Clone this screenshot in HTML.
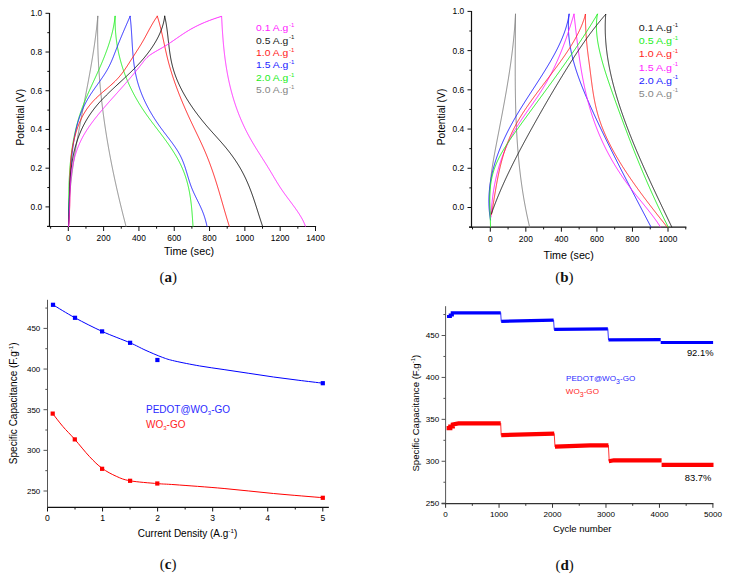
<!DOCTYPE html>
<html><head><meta charset="utf-8"><title>Figure</title>
<style>
html,body{margin:0;padding:0;background:#fff;}
body{width:729px;height:578px;overflow:hidden;font-family:"Liberation Sans", sans-serif;}
svg{display:block;}
</style></head>
<body>
<svg width="729" height="578" viewBox="0 0 729 578">
<rect width="729" height="578" fill="#fff"/>
<line x1="49.5" y1="13" x2="49.5" y2="227.1" stroke="#111" stroke-width="1.2"/>
<line x1="47" y1="226.5" x2="316.1" y2="226.5" stroke="#111" stroke-width="1.2"/>
<line x1="45.5" y1="13.3" x2="49.5" y2="13.3" stroke="#111" stroke-width="1.0"/>
<text x="42.2" y="16.2" font-size="8.4" text-anchor="end" fill="#000" font-family='"Liberation Sans", sans-serif' >1.0</text>
<line x1="47.3" y1="32.66" x2="49.5" y2="32.66" stroke="#111" stroke-width="1.0"/>
<line x1="45.5" y1="52.02" x2="49.5" y2="52.02" stroke="#111" stroke-width="1.0"/>
<text x="42.2" y="54.92" font-size="8.4" text-anchor="end" fill="#000" font-family='"Liberation Sans", sans-serif' >0.8</text>
<line x1="47.3" y1="71.38" x2="49.5" y2="71.38" stroke="#111" stroke-width="1.0"/>
<line x1="45.5" y1="90.74" x2="49.5" y2="90.74" stroke="#111" stroke-width="1.0"/>
<text x="42.2" y="93.64" font-size="8.4" text-anchor="end" fill="#000" font-family='"Liberation Sans", sans-serif' >0.6</text>
<line x1="47.3" y1="110.1" x2="49.5" y2="110.1" stroke="#111" stroke-width="1.0"/>
<line x1="45.5" y1="129.46" x2="49.5" y2="129.46" stroke="#111" stroke-width="1.0"/>
<text x="42.2" y="132.36" font-size="8.4" text-anchor="end" fill="#000" font-family='"Liberation Sans", sans-serif' >0.4</text>
<line x1="47.3" y1="148.82" x2="49.5" y2="148.82" stroke="#111" stroke-width="1.0"/>
<line x1="45.5" y1="168.18" x2="49.5" y2="168.18" stroke="#111" stroke-width="1.0"/>
<text x="42.2" y="171.08" font-size="8.4" text-anchor="end" fill="#000" font-family='"Liberation Sans", sans-serif' >0.2</text>
<line x1="47.3" y1="187.54" x2="49.5" y2="187.54" stroke="#111" stroke-width="1.0"/>
<line x1="45.5" y1="206.9" x2="49.5" y2="206.9" stroke="#111" stroke-width="1.0"/>
<text x="42.2" y="209.8" font-size="8.4" text-anchor="end" fill="#000" font-family='"Liberation Sans", sans-serif' >0.0</text>
<line x1="47.3" y1="226.26" x2="49.5" y2="226.26" stroke="#111" stroke-width="1.0"/>
<line x1="50.64" y1="226.5" x2="50.64" y2="228.7" stroke="#111" stroke-width="1.0"/>
<line x1="68.3" y1="226.5" x2="68.3" y2="231" stroke="#111" stroke-width="1.0"/>
<text x="68.3" y="240.6" font-size="8.4" text-anchor="middle" fill="#000" font-family='"Liberation Sans", sans-serif' >0</text>
<line x1="85.96" y1="226.5" x2="85.96" y2="228.7" stroke="#111" stroke-width="1.0"/>
<line x1="103.61" y1="226.5" x2="103.61" y2="231" stroke="#111" stroke-width="1.0"/>
<text x="103.61" y="240.6" font-size="8.4" text-anchor="middle" fill="#000" font-family='"Liberation Sans", sans-serif' >200</text>
<line x1="121.27" y1="226.5" x2="121.27" y2="228.7" stroke="#111" stroke-width="1.0"/>
<line x1="138.93" y1="226.5" x2="138.93" y2="231" stroke="#111" stroke-width="1.0"/>
<text x="138.93" y="240.6" font-size="8.4" text-anchor="middle" fill="#000" font-family='"Liberation Sans", sans-serif' >400</text>
<line x1="156.58" y1="226.5" x2="156.58" y2="228.7" stroke="#111" stroke-width="1.0"/>
<line x1="174.24" y1="226.5" x2="174.24" y2="231" stroke="#111" stroke-width="1.0"/>
<text x="174.24" y="240.6" font-size="8.4" text-anchor="middle" fill="#000" font-family='"Liberation Sans", sans-serif' >600</text>
<line x1="191.9" y1="226.5" x2="191.9" y2="228.7" stroke="#111" stroke-width="1.0"/>
<line x1="209.56" y1="226.5" x2="209.56" y2="231" stroke="#111" stroke-width="1.0"/>
<text x="209.56" y="240.6" font-size="8.4" text-anchor="middle" fill="#000" font-family='"Liberation Sans", sans-serif' >800</text>
<line x1="227.21" y1="226.5" x2="227.21" y2="228.7" stroke="#111" stroke-width="1.0"/>
<line x1="244.87" y1="226.5" x2="244.87" y2="231" stroke="#111" stroke-width="1.0"/>
<text x="244.87" y="240.6" font-size="8.4" text-anchor="middle" fill="#000" font-family='"Liberation Sans", sans-serif' >1000</text>
<line x1="262.53" y1="226.5" x2="262.53" y2="228.7" stroke="#111" stroke-width="1.0"/>
<line x1="280.18" y1="226.5" x2="280.18" y2="231" stroke="#111" stroke-width="1.0"/>
<text x="280.18" y="240.6" font-size="8.4" text-anchor="middle" fill="#000" font-family='"Liberation Sans", sans-serif' >1200</text>
<line x1="297.84" y1="226.5" x2="297.84" y2="228.7" stroke="#111" stroke-width="1.0"/>
<line x1="315.5" y1="226.5" x2="315.5" y2="231" stroke="#111" stroke-width="1.0"/>
<text x="315.5" y="240.6" font-size="8.4" text-anchor="middle" fill="#000" font-family='"Liberation Sans", sans-serif' >1400</text>
<text x="189" y="255.4" font-size="10.2" text-anchor="middle" fill="#000" font-family='"Liberation Sans", sans-serif'  textLength="50.2" lengthAdjust="spacingAndGlyphs">Time (sec)</text>
<text transform="translate(23.6,117.2) rotate(-90)" font-size="10.3" text-anchor="middle" fill="#000" font-family='"Liberation Sans", sans-serif'>Potential (V)</text>
<polyline points="97.8,16.3 97.71,17.3 97.62,18.3 97.52,19.3 97.43,20.3 97.33,21.3 97.23,22.3 97.13,23.3 97.02,24.3 96.92,25.3 96.81,26.3 96.7,27.3 96.58,28.3 96.47,29.3 96.35,30.3 96.23,31.3 96.11,32.3 95.99,33.3 95.86,34.3 95.74,35.3 95.61,36.3 95.48,37.3 95.34,38.3 95.21,39.3 95.07,40.3 94.93,41.3 94.79,42.3 94.65,43.3 94.51,44.3 94.36,45.3 94.22,46.3 94.07,47.3 93.92,48.3 93.77,49.3 93.62,50.3 93.46,51.3 93.31,52.3 93.15,53.3 92.99,54.3 92.83,55.3 92.67,56.3 92.51,57.3 92.35,58.3 92.18,59.3 92.01,60.3 91.85,61.3 91.68,62.3 91.51,63.3 91.34,64.3 91.17,65.3 90.99,66.3 90.82,67.3 90.64,68.3 90.47,69.3 90.29,70.3 90.11,71.3 89.93,72.3 89.75,73.3 89.57,74.3 89.39,75.3 89.21,76.3 89.03,77.3 88.84,78.3 88.66,79.3 88.47,80.3 88.29,81.3 88.1,82.3 87.92,83.3 87.73,84.3 87.54,85.3 87.35,86.3 87.16,87.3 86.97,88.3 86.78,89.3 86.59,90.3 86.4,91.3 86.21,92.3 86.02,93.3 85.83,94.3 85.63,95.3 85.44,96.3 85.25,97.3 85.06,98.3 84.86,99.3 84.67,100.3 84.48,101.3 84.28,102.3 84.09,103.3 83.9,104.3 83.7,105.3 83.51,106.3 83.32,107.3 83.12,108.3 82.93,109.3 82.74,110.3 82.55,111.3 82.35,112.3 82.16,113.3 81.97,114.3 81.78,115.3 81.58,116.3 81.39,117.3 81.2,118.3 81.01,119.3 80.82,120.3 80.63,121.3 80.44,122.3 80.25,123.3 80.06,124.3 79.88,125.3 79.69,126.3 79.5,127.3 79.32,128.3 79.13,129.3 78.95,130.3 78.76,131.3 78.58,132.3 78.4,133.3 78.21,134.3 78.03,135.3 77.85,136.3 77.67,137.3 77.5,138.3 77.32,139.3 77.14,140.3 76.97,141.3 76.79,142.3 76.62,143.3 76.45,144.3 76.28,145.3 76.1,146.3 75.94,147.3 75.77,148.3 75.6,149.3 75.44,150.3 75.27,151.3 75.11,152.3 74.95,153.3 74.79,154.3 74.63,155.3 74.47,156.3 74.31,157.3 74.16,158.3 74.01,159.3 73.85,160.3 73.7,161.3 73.55,162.3 73.41,163.3 73.26,164.3 73.12,165.3 72.98,166.3 72.83,167.3 72.7,168.3 72.56,169.3 72.42,170.3 72.29,171.3 72.16,172.3 72.03,173.3 71.9,174.3 71.77,175.3 71.65,176.3 71.53,177.3 71.41,178.3 71.29,179.3 71.17,180.3 71.06,181.3 70.95,182.3 70.84,183.3 70.73,184.3 70.62,185.3 70.52,186.3 70.42,187.3 70.32,188.3 70.22,189.3 70.13,190.3 70.04,191.3 69.95,192.3 69.86,193.3 69.77,194.3 69.69,195.3 69.61,196.3 69.53,197.3 69.46,198.3 69.39,199.3 69.32,200.3 69.25,201.3 69.18,202.3 69.12,203.3 69.06,204.3 69.01,205.3 68.95,206.3 68.9,207.3 68.85,208.3 68.81,209.3 68.77,210.3 68.73,211.3 68.69,212.3 68.66,213.3 68.62,214.3 68.6,215.3 68.57,216.3 68.55,217.3 68.53,218.3 68.52,219.3 68.5,220.3 68.49,221.3 68.49,222.3 68.48,223.3 68.48,224.3 68.49,225.3 68.5,226.3 68.5,226.5" fill="none" stroke="#858585" stroke-width="0.95"  stroke-linecap="round" stroke-linejoin="round"/>
<polyline points="97.8,16.3 97.78,17.3 97.76,18.3 97.74,19.3 97.72,20.3 97.7,21.3 97.68,22.3 97.67,23.3 97.65,24.3 97.64,25.3 97.63,26.3 97.62,27.3 97.62,28.3 97.61,29.3 97.61,30.3 97.61,31.3 97.61,32.3 97.62,33.3 97.62,34.3 97.63,35.3 97.64,36.3 97.65,37.3 97.66,38.3 97.67,39.3 97.69,40.3 97.7,41.3 97.72,42.3 97.74,43.3 97.77,44.3 97.79,45.3 97.82,46.3 97.84,47.3 97.87,48.3 97.9,49.3 97.94,50.3 97.97,51.3 98.01,52.3 98.04,53.3 98.08,54.3 98.12,55.3 98.17,56.3 98.21,57.3 98.26,58.3 98.3,59.3 98.35,60.3 98.4,61.3 98.46,62.3 98.51,63.3 98.57,64.3 98.62,65.3 98.68,66.3 98.74,67.3 98.81,68.3 98.87,69.3 98.94,70.3 99,71.3 99.07,72.3 99.14,73.3 99.21,74.3 99.29,75.3 99.36,76.3 99.44,77.3 99.52,78.3 99.6,79.3 99.68,80.3 99.76,81.3 99.85,82.3 99.93,83.3 100.02,84.3 100.11,85.3 100.2,86.3 100.29,87.3 100.39,88.3 100.48,89.3 100.58,90.3 100.68,91.3 100.77,92.3 100.88,93.3 100.98,94.3 101.08,95.3 101.19,96.3 101.3,97.3 101.4,98.3 101.52,99.3 101.63,100.3 101.74,101.3 101.85,102.3 101.97,103.3 102.09,104.3 102.21,105.3 102.33,106.3 102.45,107.3 102.57,108.3 102.7,109.3 102.82,110.3 102.95,111.3 103.08,112.3 103.21,113.3 103.34,114.3 103.48,115.3 103.61,116.3 103.75,117.3 103.88,118.3 104.02,119.3 104.16,120.3 104.31,121.3 104.45,122.3 104.59,123.3 104.74,124.3 104.89,125.3 105.03,126.3 105.18,127.3 105.34,128.3 105.49,129.3 105.64,130.3 105.8,131.3 105.95,132.3 106.11,133.3 106.27,134.3 106.43,135.3 106.59,136.3 106.76,137.3 106.92,138.3 107.09,139.3 107.25,140.3 107.42,141.3 107.59,142.3 107.76,143.3 107.94,144.3 108.11,145.3 108.28,146.3 108.46,147.3 108.64,148.3 108.82,149.3 109,150.3 109.18,151.3 109.36,152.3 109.54,153.3 109.73,154.3 109.91,155.3 110.1,156.3 110.29,157.3 110.48,158.3 110.67,159.3 110.86,160.3 111.06,161.3 111.25,162.3 111.45,163.3 111.64,164.3 111.84,165.3 112.04,166.3 112.24,167.3 112.44,168.3 112.65,169.3 112.85,170.3 113.06,171.3 113.26,172.3 113.47,173.3 113.68,174.3 113.89,175.3 114.1,176.3 114.31,177.3 114.52,178.3 114.74,179.3 114.95,180.3 115.17,181.3 115.39,182.3 115.61,183.3 115.83,184.3 116.05,185.3 116.27,186.3 116.49,187.3 116.72,188.3 116.94,189.3 117.17,190.3 117.4,191.3 117.63,192.3 117.86,193.3 118.09,194.3 118.32,195.3 118.55,196.3 118.79,197.3 119.02,198.3 119.26,199.3 119.49,200.3 119.73,201.3 119.97,202.3 120.21,203.3 120.45,204.3 120.7,205.3 120.94,206.3 121.18,207.3 121.43,208.3 121.67,209.3 121.92,210.3 122.17,211.3 122.42,212.3 122.67,213.3 122.92,214.3 123.17,215.3 123.43,216.3 123.68,217.3 123.94,218.3 124.19,219.3 124.45,220.3 124.71,221.3 124.97,222.3 125.22,223.3 125.49,224.3 125.75,225.3 126,226.3" fill="none" stroke="#858585" stroke-width="0.95"  stroke-linecap="round" stroke-linejoin="round"/>
<polyline points="115.1,16.3 114.98,17.3 114.87,18.3 114.75,19.3 114.61,20.3 114.47,21.3 114.32,22.3 114.15,23.3 113.98,24.3 113.8,25.3 113.61,26.3 113.42,27.3 113.21,28.3 113,29.3 112.77,30.3 112.54,31.3 112.3,32.3 112.06,33.3 111.8,34.3 111.54,35.3 111.27,36.3 110.99,37.3 110.71,38.3 110.41,39.3 110.12,40.3 109.81,41.3 109.5,42.3 109.18,43.3 108.85,44.3 108.52,45.3 108.19,46.3 107.84,47.3 107.49,48.3 107.14,49.3 106.78,50.3 106.41,51.3 106.04,52.3 105.66,53.3 105.28,54.3 104.9,55.3 104.5,56.3 104.11,57.3 103.71,58.3 103.3,59.3 102.9,60.3 102.48,61.3 102.07,62.3 101.65,63.3 101.22,64.3 100.79,65.3 100.36,66.3 99.93,67.3 99.49,68.3 99.05,69.3 98.61,70.3 98.16,71.3 97.72,72.3 97.27,73.3 96.81,74.3 96.36,75.3 95.9,76.3 95.45,77.3 94.99,78.3 94.53,79.3 94.07,80.3 93.61,81.3 93.15,82.3 92.69,83.3 92.23,84.3 91.78,85.3 91.32,86.3 90.86,87.3 90.41,88.3 89.96,89.3 89.51,90.3 89.06,91.3 88.61,92.3 88.17,93.3 87.73,94.3 87.3,95.3 86.86,96.3 86.44,97.3 86.01,98.3 85.59,99.3 85.18,100.3 84.77,101.3 84.36,102.3 83.96,103.3 83.57,104.3 83.18,105.3 82.8,106.3 82.42,107.3 82.05,108.3 81.69,109.3 81.34,110.3 80.99,111.3 80.64,112.3 80.31,113.3 79.98,114.3 79.65,115.3 79.34,116.3 79.03,117.3 78.72,118.3 78.42,119.3 78.13,120.3 77.84,121.3 77.56,122.3 77.28,123.3 77.02,124.3 76.75,125.3 76.49,126.3 76.24,127.3 75.99,128.3 75.75,129.3 75.51,130.3 75.28,131.3 75.06,132.3 74.84,133.3 74.62,134.3 74.41,135.3 74.2,136.3 74,137.3 73.81,138.3 73.62,139.3 73.43,140.3 73.25,141.3 73.07,142.3 72.9,143.3 72.73,144.3 72.57,145.3 72.41,146.3 72.26,147.3 72.11,148.3 71.96,149.3 71.82,150.3 71.68,151.3 71.55,152.3 71.42,153.3 71.29,154.3 71.17,155.3 71.05,156.3 70.94,157.3 70.83,158.3 70.72,159.3 70.61,160.3 70.51,161.3 70.42,162.3 70.32,163.3 70.23,164.3 70.15,165.3 70.06,166.3 69.98,167.3 69.9,168.3 69.83,169.3 69.76,170.3 69.69,171.3 69.62,172.3 69.56,173.3 69.5,174.3 69.44,175.3 69.38,176.3 69.33,177.3 69.28,178.3 69.23,179.3 69.19,180.3 69.14,181.3 69.1,182.3 69.06,183.3 69.02,184.3 68.99,185.3 68.96,186.3 68.92,187.3 68.89,188.3 68.87,189.3 68.84,190.3 68.82,191.3 68.79,192.3 68.77,193.3 68.75,194.3 68.73,195.3 68.71,196.3 68.7,197.3 68.68,198.3 68.67,199.3 68.66,200.3 68.65,201.3 68.63,202.3 68.62,203.3 68.62,204.3 68.61,205.3 68.6,206.3 68.59,207.3 68.59,208.3 68.58,209.3 68.58,210.3 68.57,211.3 68.57,212.3 68.56,213.3 68.56,214.3 68.55,215.3 68.55,216.3 68.55,217.3 68.54,218.3 68.54,219.3 68.53,220.3 68.53,221.3 68.53,222.3 68.52,223.3 68.52,224.3 68.51,225.3 68.5,226.3 68.5,226.5" fill="none" stroke="#22ee22" stroke-width="0.95"  stroke-linecap="round" stroke-linejoin="round"/>
<polyline points="115.1,16.3 115.1,17.3 115.09,18.3 115.08,19.3 115.09,20.3 115.1,21.3 115.11,22.3 115.13,23.3 115.16,24.3 115.19,25.3 115.23,26.3 115.28,27.3 115.33,28.3 115.38,29.3 115.45,30.3 115.52,31.3 115.59,32.3 115.68,33.3 115.77,34.3 115.86,35.3 115.96,36.3 116.07,37.3 116.19,38.3 116.31,39.3 116.43,40.3 116.57,41.3 116.71,42.3 116.86,43.3 117.01,44.3 117.17,45.3 117.34,46.3 117.51,47.3 117.69,48.3 117.88,49.3 118.08,50.3 118.28,51.3 118.49,52.3 118.7,53.3 118.92,54.3 119.15,55.3 119.39,56.3 119.63,57.3 119.88,58.3 120.14,59.3 120.41,60.3 120.68,61.3 120.96,62.3 121.24,63.3 121.54,64.3 121.84,65.3 122.15,66.3 122.46,67.3 122.79,68.3 123.12,69.3 123.46,70.3 123.8,71.3 124.15,72.3 124.52,73.3 124.88,74.3 125.26,75.3 125.64,76.3 126.04,77.3 126.44,78.3 126.84,79.3 127.26,80.3 127.68,81.3 128.11,82.3 128.55,83.3 129,84.3 129.45,85.3 129.91,86.3 130.38,87.3 130.86,88.3 131.35,89.3 131.84,90.3 132.35,91.3 132.86,92.3 133.38,93.3 133.9,94.3 134.44,95.3 134.98,96.3 135.54,97.3 136.1,98.3 136.67,99.3 137.24,100.3 137.83,101.3 138.43,102.3 139.03,103.3 139.64,104.3 140.26,105.3 140.89,106.3 141.53,107.3 142.17,108.3 142.83,109.3 143.49,110.3 144.17,111.3 144.85,112.3 145.54,113.3 146.24,114.3 146.94,115.3 147.66,116.3 148.38,117.3 149.11,118.3 149.85,119.3 150.59,120.3 151.33,121.3 152.08,122.3 152.83,123.3 153.59,124.3 154.35,125.3 155.11,126.3 155.87,127.3 156.63,128.3 157.4,129.3 158.16,130.3 158.92,131.3 159.68,132.3 160.44,133.3 161.2,134.3 161.95,135.3 162.7,136.3 163.45,137.3 164.19,138.3 164.92,139.3 165.65,140.3 166.37,141.3 167.09,142.3 167.8,143.3 168.5,144.3 169.19,145.3 169.88,146.3 170.56,147.3 171.23,148.3 171.89,149.3 172.54,150.3 173.18,151.3 173.81,152.3 174.43,153.3 175.05,154.3 175.65,155.3 176.24,156.3 176.82,157.3 177.38,158.3 177.94,159.3 178.48,160.3 179.01,161.3 179.53,162.3 180.03,163.3 180.52,164.3 181,165.3 181.46,166.3 181.91,167.3 182.35,168.3 182.77,169.3 183.18,170.3 183.58,171.3 183.97,172.3 184.34,173.3 184.71,174.3 185.06,175.3 185.4,176.3 185.73,177.3 186.04,178.3 186.35,179.3 186.65,180.3 186.94,181.3 187.21,182.3 187.48,183.3 187.74,184.3 187.99,185.3 188.23,186.3 188.46,187.3 188.68,188.3 188.89,189.3 189.1,190.3 189.3,191.3 189.49,192.3 189.67,193.3 189.84,194.3 190.01,195.3 190.17,196.3 190.33,197.3 190.48,198.3 190.62,199.3 190.76,200.3 190.89,201.3 191.01,202.3 191.13,203.3 191.25,204.3 191.36,205.3 191.47,206.3 191.57,207.3 191.67,208.3 191.76,209.3 191.85,210.3 191.94,211.3 192.02,212.3 192.1,213.3 192.18,214.3 192.26,215.3 192.33,216.3 192.4,217.3 192.47,218.3 192.54,219.3 192.61,220.3 192.67,221.3 192.74,222.3 192.8,223.3 192.87,224.3 192.93,225.3 193,226.3" fill="none" stroke="#22ee22" stroke-width="0.95"  stroke-linecap="round" stroke-linejoin="round"/>
<polyline points="130.1,16.3 129.67,17.3 129.23,18.3 128.79,19.3 128.35,20.3 127.91,21.3 127.48,22.3 127.04,23.3 126.6,24.3 126.17,25.3 125.74,26.3 125.3,27.3 124.87,28.3 124.44,29.3 124.01,30.3 123.59,31.3 123.16,32.3 122.73,33.3 122.31,34.3 121.89,35.3 121.47,36.3 121.06,37.3 120.64,38.3 120.23,39.3 119.82,40.3 119.41,41.3 119,42.3 118.6,43.3 118.2,44.3 117.8,45.3 117.4,46.3 117.01,47.3 116.62,48.3 116.24,49.3 115.85,50.3 115.47,51.3 115.08,52.3 114.7,53.3 114.31,54.3 113.92,55.3 113.53,56.3 113.13,57.3 112.72,58.3 112.31,59.3 111.89,60.3 111.46,61.3 111.01,62.3 110.56,63.3 110.09,64.3 109.61,65.3 109.12,66.3 108.6,67.3 108.07,68.3 107.53,69.3 106.96,70.3 106.37,71.3 105.77,72.3 105.15,73.3 104.51,74.3 103.86,75.3 103.2,76.3 102.53,77.3 101.84,78.3 101.15,79.3 100.45,80.3 99.75,81.3 99.04,82.3 98.33,83.3 97.61,84.3 96.9,85.3 96.18,86.3 95.47,87.3 94.76,88.3 94.06,89.3 93.37,90.3 92.68,91.3 92,92.3 91.33,93.3 90.67,94.3 90.03,95.3 89.4,96.3 88.79,97.3 88.19,98.3 87.61,99.3 87.04,100.3 86.49,101.3 85.95,102.3 85.43,103.3 84.92,104.3 84.43,105.3 83.95,106.3 83.48,107.3 83.03,108.3 82.58,109.3 82.16,110.3 81.74,111.3 81.34,112.3 80.94,113.3 80.56,114.3 80.2,115.3 79.84,116.3 79.49,117.3 79.16,118.3 78.83,119.3 78.51,120.3 78.21,121.3 77.91,122.3 77.63,123.3 77.35,124.3 77.08,125.3 76.82,126.3 76.57,127.3 76.33,128.3 76.09,129.3 75.86,130.3 75.64,131.3 75.43,132.3 75.22,133.3 75.02,134.3 74.83,135.3 74.64,136.3 74.46,137.3 74.29,138.3 74.12,139.3 73.95,140.3 73.79,141.3 73.63,142.3 73.48,143.3 73.34,144.3 73.19,145.3 73.05,146.3 72.92,147.3 72.78,148.3 72.65,149.3 72.53,150.3 72.41,151.3 72.29,152.3 72.17,153.3 72.06,154.3 71.95,155.3 71.84,156.3 71.74,157.3 71.64,158.3 71.54,159.3 71.45,160.3 71.35,161.3 71.26,162.3 71.18,163.3 71.09,164.3 71.01,165.3 70.93,166.3 70.86,167.3 70.78,168.3 70.71,169.3 70.64,170.3 70.57,171.3 70.51,172.3 70.44,173.3 70.38,174.3 70.32,175.3 70.27,176.3 70.21,177.3 70.16,178.3 70.1,179.3 70.05,180.3 70,181.3 69.96,182.3 69.91,183.3 69.87,184.3 69.82,185.3 69.78,186.3 69.74,187.3 69.7,188.3 69.66,189.3 69.63,190.3 69.59,191.3 69.55,192.3 69.52,193.3 69.49,194.3 69.45,195.3 69.42,196.3 69.39,197.3 69.36,198.3 69.33,199.3 69.3,200.3 69.27,201.3 69.24,202.3 69.21,203.3 69.19,204.3 69.16,205.3 69.13,206.3 69.1,207.3 69.07,208.3 69.04,209.3 69.02,210.3 68.99,211.3 68.96,212.3 68.93,213.3 68.9,214.3 68.87,215.3 68.84,216.3 68.81,217.3 68.78,218.3 68.75,219.3 68.72,220.3 68.68,221.3 68.65,222.3 68.62,223.3 68.58,224.3 68.54,225.3 68.51,226.3 68.5,226.5" fill="none" stroke="#2222ff" stroke-width="0.95"  stroke-linecap="round" stroke-linejoin="round"/>
<polyline points="130.1,16.3 130.22,17.3 130.34,18.3 130.45,19.3 130.55,20.3 130.65,21.3 130.75,22.3 130.84,23.3 130.93,24.3 131.02,25.3 131.1,26.3 131.17,27.3 131.25,28.3 131.32,29.3 131.39,30.3 131.46,31.3 131.52,32.3 131.59,33.3 131.65,34.3 131.71,35.3 131.77,36.3 131.83,37.3 131.89,38.3 131.95,39.3 132,40.3 132.06,41.3 132.12,42.3 132.18,43.3 132.24,44.3 132.3,45.3 132.37,46.3 132.43,47.3 132.5,48.3 132.57,49.3 132.64,50.3 132.71,51.3 132.79,52.3 132.87,53.3 132.95,54.3 133.04,55.3 133.13,56.3 133.22,57.3 133.32,58.3 133.43,59.3 133.54,60.3 133.65,61.3 133.77,62.3 133.9,63.3 134.03,64.3 134.16,65.3 134.31,66.3 134.46,67.3 134.61,68.3 134.78,69.3 134.95,70.3 135.13,71.3 135.32,72.3 135.51,73.3 135.71,74.3 135.93,75.3 136.15,76.3 136.38,77.3 136.62,78.3 136.86,79.3 137.12,80.3 137.39,81.3 137.67,82.3 137.96,83.3 138.26,84.3 138.57,85.3 138.88,86.3 139.21,87.3 139.55,88.3 139.9,89.3 140.26,90.3 140.62,91.3 141,92.3 141.39,93.3 141.79,94.3 142.2,95.3 142.61,96.3 143.04,97.3 143.48,98.3 143.92,99.3 144.38,100.3 144.85,101.3 145.32,102.3 145.81,103.3 146.31,104.3 146.81,105.3 147.33,106.3 147.85,107.3 148.39,108.3 148.93,109.3 149.49,110.3 150.05,111.3 150.63,112.3 151.21,113.3 151.8,114.3 152.41,115.3 153.02,116.3 153.64,117.3 154.28,118.3 154.92,119.3 155.57,120.3 156.23,121.3 156.9,122.3 157.58,123.3 158.27,124.3 158.97,125.3 159.68,126.3 160.4,127.3 161.13,128.3 161.87,129.3 162.61,130.3 163.37,131.3 164.12,132.3 164.89,133.3 165.65,134.3 166.42,135.3 167.18,136.3 167.95,137.3 168.71,138.3 169.47,139.3 170.23,140.3 170.98,141.3 171.72,142.3 172.46,143.3 173.18,144.3 173.89,145.3 174.59,146.3 175.28,147.3 175.95,148.3 176.61,149.3 177.24,150.3 177.86,151.3 178.46,152.3 179.04,153.3 179.6,154.3 180.13,155.3 180.64,156.3 181.12,157.3 181.59,158.3 182.04,159.3 182.47,160.3 182.88,161.3 183.28,162.3 183.66,163.3 184.03,164.3 184.39,165.3 184.74,166.3 185.07,167.3 185.4,168.3 185.72,169.3 186.03,170.3 186.34,171.3 186.64,172.3 186.94,173.3 187.24,174.3 187.54,175.3 187.84,176.3 188.14,177.3 188.44,178.3 188.74,179.3 189.05,180.3 189.37,181.3 189.7,182.3 190.03,183.3 190.37,184.3 190.72,185.3 191.09,186.3 191.47,187.3 191.86,188.3 192.27,189.3 192.69,190.3 193.13,191.3 193.57,192.3 194.03,193.3 194.5,194.3 194.97,195.3 195.45,196.3 195.94,197.3 196.42,198.3 196.92,199.3 197.41,200.3 197.9,201.3 198.39,202.3 198.88,203.3 199.36,204.3 199.83,205.3 200.3,206.3 200.76,207.3 201.21,208.3 201.65,209.3 202.08,210.3 202.49,211.3 202.88,212.3 203.27,213.3 203.63,214.3 203.99,215.3 204.32,216.3 204.65,217.3 204.96,218.3 205.26,219.3 205.54,220.3 205.81,221.3 206.07,222.3 206.32,223.3 206.56,224.3 206.78,225.3 207,226.3" fill="none" stroke="#2222ff" stroke-width="0.95"  stroke-linecap="round" stroke-linejoin="round"/>
<polyline points="157.3,16.2 156.61,17.2 155.93,18.2 155.28,19.2 154.64,20.2 154.01,21.2 153.4,22.2 152.81,23.2 152.22,24.2 151.65,25.2 151.08,26.2 150.52,27.2 149.97,28.2 149.42,29.2 148.88,30.2 148.34,31.2 147.81,32.2 147.27,33.2 146.74,34.2 146.2,35.2 145.66,36.2 145.11,37.2 144.57,38.2 144.01,39.2 143.45,40.2 142.88,41.2 142.3,42.2 141.71,43.2 141.11,44.2 140.5,45.2 139.89,46.2 139.27,47.2 138.64,48.2 138.01,49.2 137.37,50.2 136.73,51.2 136.09,52.2 135.45,53.2 134.8,54.2 134.15,55.2 133.5,56.2 132.85,57.2 132.21,58.2 131.56,59.2 130.92,60.2 130.27,61.2 129.64,62.2 129,63.2 128.36,64.2 127.71,65.2 127.06,66.2 126.4,67.2 125.73,68.2 125.05,69.2 124.35,70.2 123.64,71.2 122.91,72.2 122.16,73.2 121.38,74.2 120.58,75.2 119.75,76.2 118.9,77.2 118.01,78.2 117.09,79.2 116.14,80.2 115.15,81.2 114.12,82.2 113.05,83.2 111.96,84.2 110.84,85.2 109.71,86.2 108.55,87.2 107.39,88.2 106.22,89.2 105.04,90.2 103.87,91.2 102.7,92.2 101.54,93.2 100.4,94.2 99.28,95.2 98.18,96.2 97.11,97.2 96.07,98.2 95.07,99.2 94.1,100.2 93.17,101.2 92.26,102.2 91.39,103.2 90.54,104.2 89.73,105.2 88.95,106.2 88.19,107.2 87.46,108.2 86.76,109.2 86.08,110.2 85.43,111.2 84.8,112.2 84.2,113.2 83.62,114.2 83.06,115.2 82.52,116.2 82,117.2 81.5,118.2 81.02,119.2 80.55,120.2 80.1,121.2 79.67,122.2 79.26,123.2 78.86,124.2 78.47,125.2 78.1,126.2 77.73,127.2 77.38,128.2 77.04,129.2 76.71,130.2 76.39,131.2 76.09,132.2 75.79,133.2 75.5,134.2 75.22,135.2 74.95,136.2 74.69,137.2 74.44,138.2 74.19,139.2 73.96,140.2 73.73,141.2 73.52,142.2 73.31,143.2 73.11,144.2 72.92,145.2 72.73,146.2 72.56,147.2 72.39,148.2 72.23,149.2 72.07,150.2 71.92,151.2 71.78,152.2 71.65,153.2 71.52,154.2 71.4,155.2 71.28,156.2 71.18,157.2 71.07,158.2 70.97,159.2 70.88,160.2 70.8,161.2 70.71,162.2 70.64,163.2 70.56,164.2 70.5,165.2 70.43,166.2 70.38,167.2 70.32,168.2 70.27,169.2 70.22,170.2 70.18,171.2 70.14,172.2 70.11,173.2 70.07,174.2 70.04,175.2 70.02,176.2 69.99,177.2 69.97,178.2 69.95,179.2 69.93,180.2 69.92,181.2 69.9,182.2 69.89,183.2 69.88,184.2 69.87,185.2 69.86,186.2 69.85,187.2 69.85,188.2 69.84,189.2 69.83,190.2 69.83,191.2 69.82,192.2 69.82,193.2 69.81,194.2 69.81,195.2 69.8,196.2 69.79,197.2 69.79,198.2 69.78,199.2 69.77,200.2 69.76,201.2 69.74,202.2 69.73,203.2 69.71,204.2 69.69,205.2 69.67,206.2 69.65,207.2 69.62,208.2 69.59,209.2 69.56,210.2 69.53,211.2 69.49,212.2 69.45,213.2 69.4,214.2 69.35,215.2 69.3,216.2 69.25,217.2 69.18,218.2 69.12,219.2 69.05,220.2 68.98,221.2 68.9,222.2 68.81,223.2 68.72,224.2 68.63,225.2 68.53,226.2 68.5,226.5" fill="none" stroke="#ff2222" stroke-width="0.95"  stroke-linecap="round" stroke-linejoin="round"/>
<polyline points="157.3,16.2 157.62,17.2 157.93,18.2 158.24,19.2 158.53,20.2 158.82,21.2 159.1,22.2 159.38,23.2 159.65,24.2 159.92,25.2 160.18,26.2 160.43,27.2 160.68,28.2 160.93,29.2 161.17,30.2 161.41,31.2 161.64,32.2 161.87,33.2 162.1,34.2 162.33,35.2 162.55,36.2 162.77,37.2 162.99,38.2 163.21,39.2 163.43,40.2 163.64,41.2 163.86,42.2 164.07,43.2 164.29,44.2 164.5,45.2 164.72,46.2 164.94,47.2 165.16,48.2 165.37,49.2 165.6,50.2 165.82,51.2 166.05,52.2 166.27,53.2 166.5,54.2 166.74,55.2 166.98,56.2 167.22,57.2 167.46,58.2 167.71,59.2 167.97,60.2 168.23,61.2 168.49,62.2 168.76,63.2 169.03,64.2 169.31,65.2 169.59,66.2 169.88,67.2 170.17,68.2 170.47,69.2 170.76,70.2 171.07,71.2 171.38,72.2 171.69,73.2 172,74.2 172.32,75.2 172.65,76.2 172.98,77.2 173.31,78.2 173.65,79.2 173.99,80.2 174.33,81.2 174.68,82.2 175.03,83.2 175.39,84.2 175.75,85.2 176.11,86.2 176.48,87.2 176.85,88.2 177.22,89.2 177.6,90.2 177.98,91.2 178.36,92.2 178.75,93.2 179.14,94.2 179.54,95.2 179.93,96.2 180.34,97.2 180.74,98.2 181.15,99.2 181.56,100.2 181.97,101.2 182.39,102.2 182.81,103.2 183.23,104.2 183.66,105.2 184.09,106.2 184.52,107.2 184.95,108.2 185.39,109.2 185.83,110.2 186.27,111.2 186.72,112.2 187.17,113.2 187.62,114.2 188.07,115.2 188.53,116.2 188.99,117.2 189.45,118.2 189.91,119.2 190.38,120.2 190.85,121.2 191.32,122.2 191.79,123.2 192.27,124.2 192.74,125.2 193.22,126.2 193.7,127.2 194.18,128.2 194.66,129.2 195.14,130.2 195.62,131.2 196.1,132.2 196.58,133.2 197.06,134.2 197.54,135.2 198.02,136.2 198.49,137.2 198.97,138.2 199.44,139.2 199.91,140.2 200.38,141.2 200.85,142.2 201.31,143.2 201.77,144.2 202.23,145.2 202.68,146.2 203.13,147.2 203.57,148.2 204.01,149.2 204.45,150.2 204.88,151.2 205.31,152.2 205.73,153.2 206.15,154.2 206.56,155.2 206.96,156.2 207.37,157.2 207.76,158.2 208.16,159.2 208.55,160.2 208.93,161.2 209.31,162.2 209.69,163.2 210.06,164.2 210.43,165.2 210.79,166.2 211.16,167.2 211.51,168.2 211.87,169.2 212.22,170.2 212.57,171.2 212.91,172.2 213.25,173.2 213.59,174.2 213.92,175.2 214.25,176.2 214.58,177.2 214.91,178.2 215.23,179.2 215.55,180.2 215.87,181.2 216.18,182.2 216.5,183.2 216.81,184.2 217.12,185.2 217.42,186.2 217.73,187.2 218.03,188.2 218.33,189.2 218.63,190.2 218.93,191.2 219.22,192.2 219.52,193.2 219.81,194.2 220.11,195.2 220.4,196.2 220.69,197.2 220.98,198.2 221.27,199.2 221.56,200.2 221.85,201.2 222.13,202.2 222.42,203.2 222.71,204.2 223,205.2 223.29,206.2 223.57,207.2 223.86,208.2 224.15,209.2 224.44,210.2 224.73,211.2 225.03,212.2 225.32,213.2 225.61,214.2 225.91,215.2 226.21,216.2 226.5,217.2 226.8,218.2 227.1,219.2 227.41,220.2 227.71,221.2 228.02,222.2 228.33,223.2 228.64,224.2 228.95,225.2 229.27,226.2 229.3,226.3" fill="none" stroke="#ff2222" stroke-width="0.95"  stroke-linecap="round" stroke-linejoin="round"/>
<polyline points="164.7,16.2 164.56,17.2 164.42,18.2 164.25,19.2 164.07,20.2 163.86,21.2 163.64,22.2 163.4,23.2 163.13,24.2 162.85,25.2 162.55,26.2 162.24,27.2 161.9,28.2 161.55,29.2 161.17,30.2 160.78,31.2 160.38,32.2 159.95,33.2 159.51,34.2 159.04,35.2 158.57,36.2 158.07,37.2 157.56,38.2 157.03,39.2 156.48,40.2 155.91,41.2 155.33,42.2 154.73,43.2 154.12,44.2 153.49,45.2 152.84,46.2 152.18,47.2 151.5,48.2 150.81,49.2 150.1,50.2 149.37,51.2 148.63,52.2 147.87,53.2 147.1,54.2 146.31,55.2 145.51,56.2 144.69,57.2 143.86,58.2 143.01,59.2 142.15,60.2 141.27,61.2 140.38,62.2 139.47,63.2 138.56,64.2 137.62,65.2 136.68,66.2 135.71,67.2 134.74,68.2 133.75,69.2 132.75,70.2 131.74,71.2 130.72,72.2 129.68,73.2 128.64,74.2 127.59,75.2 126.54,76.2 125.47,77.2 124.41,78.2 123.33,79.2 122.26,80.2 121.18,81.2 120.1,82.2 119.02,83.2 117.94,84.2 116.86,85.2 115.79,86.2 114.72,87.2 113.65,88.2 112.58,89.2 111.53,90.2 110.48,91.2 109.43,92.2 108.4,93.2 107.38,94.2 106.36,95.2 105.36,96.2 104.37,97.2 103.4,98.2 102.44,99.2 101.49,100.2 100.57,101.2 99.65,102.2 98.76,103.2 97.89,104.2 97.03,105.2 96.2,106.2 95.38,107.2 94.58,108.2 93.81,109.2 93.05,110.2 92.3,111.2 91.58,112.2 90.87,113.2 90.18,114.2 89.51,115.2 88.85,116.2 88.21,117.2 87.59,118.2 86.98,119.2 86.39,120.2 85.81,121.2 85.25,122.2 84.7,123.2 84.17,124.2 83.65,125.2 83.14,126.2 82.65,127.2 82.17,128.2 81.7,129.2 81.25,130.2 80.81,131.2 80.38,132.2 79.96,133.2 79.56,134.2 79.16,135.2 78.78,136.2 78.41,137.2 78.05,138.2 77.69,139.2 77.35,140.2 77.02,141.2 76.7,142.2 76.39,143.2 76.08,144.2 75.79,145.2 75.51,146.2 75.23,147.2 74.96,148.2 74.71,149.2 74.46,150.2 74.21,151.2 73.98,152.2 73.76,153.2 73.54,154.2 73.33,155.2 73.13,156.2 72.94,157.2 72.75,158.2 72.57,159.2 72.4,160.2 72.23,161.2 72.07,162.2 71.92,163.2 71.77,164.2 71.63,165.2 71.5,166.2 71.37,167.2 71.25,168.2 71.13,169.2 71.02,170.2 70.91,171.2 70.81,172.2 70.72,173.2 70.62,174.2 70.54,175.2 70.45,176.2 70.38,177.2 70.3,178.2 70.23,179.2 70.17,180.2 70.1,181.2 70.04,182.2 69.99,183.2 69.94,184.2 69.89,185.2 69.84,186.2 69.79,187.2 69.75,188.2 69.71,189.2 69.68,190.2 69.64,191.2 69.61,192.2 69.58,193.2 69.55,194.2 69.52,195.2 69.49,196.2 69.47,197.2 69.44,198.2 69.42,199.2 69.4,200.2 69.38,201.2 69.35,202.2 69.33,203.2 69.31,204.2 69.29,205.2 69.26,206.2 69.24,207.2 69.22,208.2 69.19,209.2 69.17,210.2 69.14,211.2 69.12,212.2 69.09,213.2 69.06,214.2 69.02,215.2 68.99,216.2 68.95,217.2 68.92,218.2 68.88,219.2 68.83,220.2 68.79,221.2 68.74,222.2 68.69,223.2 68.63,224.2 68.58,225.2 68.52,226.2 68.5,226.5" fill="none" stroke="#1a1a1a" stroke-width="0.95"  stroke-linecap="round" stroke-linejoin="round"/>
<polyline points="164.7,16.2 164.92,17.2 165.14,18.2 165.34,19.2 165.54,20.2 165.73,21.2 165.91,22.2 166.08,23.2 166.25,24.2 166.41,25.2 166.56,26.2 166.71,27.2 166.85,28.2 166.99,29.2 167.12,30.2 167.25,31.2 167.38,32.2 167.5,33.2 167.62,34.2 167.73,35.2 167.85,36.2 167.96,37.2 168.07,38.2 168.18,39.2 168.29,40.2 168.41,41.2 168.52,42.2 168.63,43.2 168.74,44.2 168.86,45.2 168.98,46.2 169.1,47.2 169.22,48.2 169.35,49.2 169.48,50.2 169.62,51.2 169.76,52.2 169.9,53.2 170.05,54.2 170.21,55.2 170.38,56.2 170.55,57.2 170.72,58.2 170.91,59.2 171.1,60.2 171.31,61.2 171.52,62.2 171.74,63.2 171.97,64.2 172.21,65.2 172.46,66.2 172.73,67.2 173,68.2 173.29,69.2 173.59,70.2 173.9,71.2 174.22,72.2 174.55,73.2 174.89,74.2 175.25,75.2 175.61,76.2 175.99,77.2 176.38,78.2 176.78,79.2 177.19,80.2 177.61,81.2 178.05,82.2 178.49,83.2 178.94,84.2 179.41,85.2 179.88,86.2 180.37,87.2 180.87,88.2 181.38,89.2 181.89,90.2 182.42,91.2 182.96,92.2 183.51,93.2 184.07,94.2 184.64,95.2 185.22,96.2 185.8,97.2 186.4,98.2 187.01,99.2 187.63,100.2 188.26,101.2 188.9,102.2 189.54,103.2 190.2,104.2 190.87,105.2 191.55,106.2 192.23,107.2 192.93,108.2 193.63,109.2 194.34,110.2 195.07,111.2 195.8,112.2 196.54,113.2 197.29,114.2 198.05,115.2 198.81,116.2 199.59,117.2 200.38,118.2 201.17,119.2 201.97,120.2 202.78,121.2 203.6,122.2 204.43,123.2 205.27,124.2 206.11,125.2 206.96,126.2 207.82,127.2 208.69,128.2 209.57,129.2 210.45,130.2 211.34,131.2 212.24,132.2 213.14,133.2 214.04,134.2 214.94,135.2 215.84,136.2 216.74,137.2 217.64,138.2 218.53,139.2 219.43,140.2 220.31,141.2 221.19,142.2 222.07,143.2 222.93,144.2 223.79,145.2 224.63,146.2 225.47,147.2 226.29,148.2 227.1,149.2 227.9,150.2 228.69,151.2 229.46,152.2 230.23,153.2 230.98,154.2 231.72,155.2 232.45,156.2 233.17,157.2 233.87,158.2 234.57,159.2 235.25,160.2 235.92,161.2 236.57,162.2 237.22,163.2 237.85,164.2 238.47,165.2 239.08,166.2 239.68,167.2 240.26,168.2 240.84,169.2 241.4,170.2 241.95,171.2 242.48,172.2 243.01,173.2 243.53,174.2 244.04,175.2 244.53,176.2 245.02,177.2 245.5,178.2 245.96,179.2 246.42,180.2 246.87,181.2 247.31,182.2 247.75,183.2 248.17,184.2 248.59,185.2 249,186.2 249.41,187.2 249.8,188.2 250.19,189.2 250.58,190.2 250.95,191.2 251.33,192.2 251.69,193.2 252.06,194.2 252.41,195.2 252.77,196.2 253.11,197.2 253.46,198.2 253.8,199.2 254.13,200.2 254.47,201.2 254.8,202.2 255.13,203.2 255.45,204.2 255.78,205.2 256.1,206.2 256.42,207.2 256.74,208.2 257.05,209.2 257.37,210.2 257.69,211.2 258,212.2 258.32,213.2 258.64,214.2 258.95,215.2 259.27,216.2 259.59,217.2 259.91,218.2 260.24,219.2 260.56,220.2 260.89,221.2 261.22,222.2 261.55,223.2 261.88,224.2 262.22,225.2 262.57,226.2 262.6,226.3" fill="none" stroke="#1a1a1a" stroke-width="0.95"  stroke-linecap="round" stroke-linejoin="round"/>
<polyline points="221,16.5 217.88,17.5 214.91,18.5 212.08,19.5 209.4,20.5 206.84,21.5 204.41,22.5 202.09,23.5 199.89,24.5 197.78,25.5 195.77,26.5 193.85,27.5 192.01,28.5 190.24,29.5 188.54,30.5 186.89,31.5 185.3,32.5 183.75,33.5 182.24,34.5 180.76,35.5 179.3,36.5 177.85,37.5 176.41,38.5 174.98,39.5 173.53,40.5 172.07,41.5 170.59,42.5 169.09,43.5 167.54,44.5 165.96,45.5 164.32,46.5 162.63,47.5 160.89,48.5 159.12,49.5 157.36,50.5 155.62,51.5 153.92,52.5 152.3,53.5 150.78,54.5 149.38,55.5 148.12,56.5 147.01,57.5 146.02,58.5 145.12,59.5 144.3,60.5 143.52,61.5 142.76,62.5 142,63.5 141.23,64.5 140.45,65.5 139.67,66.5 138.87,67.5 138.08,68.5 137.27,69.5 136.46,70.5 135.65,71.5 134.83,72.5 134,73.5 133.17,74.5 132.33,75.5 131.49,76.5 130.64,77.5 129.79,78.5 128.93,79.5 128.07,80.5 127.21,81.5 126.34,82.5 125.46,83.5 124.59,84.5 123.71,85.5 122.83,86.5 121.94,87.5 121.06,88.5 120.17,89.5 119.27,90.5 118.38,91.5 117.49,92.5 116.59,93.5 115.7,94.5 114.8,95.5 113.91,96.5 113.01,97.5 112.12,98.5 111.23,99.5 110.34,100.5 109.45,101.5 108.57,102.5 107.68,103.5 106.81,104.5 105.93,105.5 105.06,106.5 104.2,107.5 103.34,108.5 102.49,109.5 101.64,110.5 100.8,111.5 99.96,112.5 99.13,113.5 98.31,114.5 97.5,115.5 96.7,116.5 95.9,117.5 95.12,118.5 94.34,119.5 93.57,120.5 92.82,121.5 92.07,122.5 91.34,123.5 90.61,124.5 89.9,125.5 89.2,126.5 88.52,127.5 87.84,128.5 87.19,129.5 86.54,130.5 85.91,131.5 85.29,132.5 84.69,133.5 84.1,134.5 83.53,135.5 82.98,136.5 82.44,137.5 81.92,138.5 81.41,139.5 80.91,140.5 80.44,141.5 79.97,142.5 79.52,143.5 79.09,144.5 78.66,145.5 78.26,146.5 77.86,147.5 77.48,148.5 77.11,149.5 76.75,150.5 76.41,151.5 76.08,152.5 75.76,153.5 75.45,154.5 75.15,155.5 74.86,156.5 74.59,157.5 74.32,158.5 74.07,159.5 73.83,160.5 73.59,161.5 73.37,162.5 73.16,163.5 72.95,164.5 72.75,165.5 72.57,166.5 72.39,167.5 72.22,168.5 72.06,169.5 71.9,170.5 71.76,171.5 71.62,172.5 71.48,173.5 71.36,174.5 71.24,175.5 71.13,176.5 71.02,177.5 70.92,178.5 70.83,179.5 70.74,180.5 70.66,181.5 70.58,182.5 70.5,183.5 70.43,184.5 70.37,185.5 70.31,186.5 70.25,187.5 70.2,188.5 70.15,189.5 70.1,190.5 70.06,191.5 70.02,192.5 69.98,193.5 69.94,194.5 69.91,195.5 69.87,196.5 69.84,197.5 69.81,198.5 69.78,199.5 69.75,200.5 69.73,201.5 69.7,202.5 69.67,203.5 69.64,204.5 69.61,205.5 69.58,206.5 69.55,207.5 69.52,208.5 69.49,209.5 69.46,210.5 69.42,211.5 69.38,212.5 69.34,213.5 69.3,214.5 69.25,215.5 69.2,216.5 69.15,217.5 69.1,218.5 69.04,219.5 68.97,220.5 68.91,221.5 68.83,222.5 68.76,223.5 68.68,224.5 68.59,225.5 68.5,226.5" fill="none" stroke="#ff22ff" stroke-width="0.95"  stroke-linecap="round" stroke-linejoin="round"/>
<polyline points="221.6,16.5 221.65,17.5 221.7,18.5 221.75,19.5 221.8,20.5 221.86,21.5 221.91,22.5 221.97,23.5 222.02,24.5 222.08,25.5 222.14,26.5 222.2,27.5 222.26,28.5 222.32,29.5 222.39,30.5 222.45,31.5 222.52,32.5 222.59,33.5 222.66,34.5 222.74,35.5 222.81,36.5 222.89,37.5 222.97,38.5 223.05,39.5 223.13,40.5 223.21,41.5 223.3,42.5 223.39,43.5 223.48,44.5 223.58,45.5 223.67,46.5 223.77,47.5 223.87,48.5 223.98,49.5 224.08,50.5 224.19,51.5 224.3,52.5 224.42,53.5 224.53,54.5 224.66,55.5 224.78,56.5 224.9,57.5 225.03,58.5 225.17,59.5 225.3,60.5 225.44,61.5 225.58,62.5 225.73,63.5 225.88,64.5 226.03,65.5 226.19,66.5 226.35,67.5 226.51,68.5 226.68,69.5 226.85,70.5 227.02,71.5 227.2,72.5 227.38,73.5 227.57,74.5 227.76,75.5 227.95,76.5 228.15,77.5 228.35,78.5 228.56,79.5 228.77,80.5 228.98,81.5 229.2,82.5 229.43,83.5 229.66,84.5 229.89,85.5 230.13,86.5 230.37,87.5 230.62,88.5 230.87,89.5 231.13,90.5 231.39,91.5 231.66,92.5 231.93,93.5 232.21,94.5 232.49,95.5 232.77,96.5 233.07,97.5 233.37,98.5 233.67,99.5 233.98,100.5 234.29,101.5 234.61,102.5 234.94,103.5 235.27,104.5 235.6,105.5 235.95,106.5 236.29,107.5 236.65,108.5 237.01,109.5 237.37,110.5 237.75,111.5 238.12,112.5 238.51,113.5 238.9,114.5 239.3,115.5 239.7,116.5 240.11,117.5 240.52,118.5 240.95,119.5 241.37,120.5 241.81,121.5 242.25,122.5 242.7,123.5 243.16,124.5 243.62,125.5 244.09,126.5 244.56,127.5 245.05,128.5 245.54,129.5 246.03,130.5 246.54,131.5 247.05,132.5 247.57,133.5 248.09,134.5 248.63,135.5 249.17,136.5 249.72,137.5 250.27,138.5 250.84,139.5 251.41,140.5 251.99,141.5 252.57,142.5 253.16,143.5 253.76,144.5 254.36,145.5 254.97,146.5 255.58,147.5 256.2,148.5 256.82,149.5 257.44,150.5 258.07,151.5 258.7,152.5 259.33,153.5 259.96,154.5 260.6,155.5 261.23,156.5 261.87,157.5 262.5,158.5 263.14,159.5 263.77,160.5 264.4,161.5 265.03,162.5 265.66,163.5 266.29,164.5 266.91,165.5 267.53,166.5 268.14,167.5 268.76,168.5 269.36,169.5 269.96,170.5 270.56,171.5 271.16,172.5 271.75,173.5 272.34,174.5 272.93,175.5 273.52,176.5 274.11,177.5 274.71,178.5 275.3,179.5 275.9,180.5 276.51,181.5 277.12,182.5 277.74,183.5 278.36,184.5 278.99,185.5 279.63,186.5 280.28,187.5 280.94,188.5 281.61,189.5 282.3,190.5 282.99,191.5 283.7,192.5 284.41,193.5 285.14,194.5 285.87,195.5 286.6,196.5 287.34,197.5 288.09,198.5 288.84,199.5 289.58,200.5 290.33,201.5 291.08,202.5 291.82,203.5 292.56,204.5 293.3,205.5 294.03,206.5 294.75,207.5 295.47,208.5 296.17,209.5 296.87,210.5 297.55,211.5 298.22,212.5 298.88,213.5 299.52,214.5 300.14,215.5 300.74,216.5 301.33,217.5 301.9,218.5 302.44,219.5 302.96,220.5 303.45,221.5 303.91,222.5 304.35,223.5 304.76,224.5 305.13,225.5 305.4,226.3" fill="none" stroke="#ff22ff" stroke-width="0.95"  stroke-linecap="round" stroke-linejoin="round"/>
<text x="256.1" y="31.1" font-size="9.0" fill="#ff22ff" font-family='"Liberation Sans", sans-serif' textLength="32.2" lengthAdjust="spacingAndGlyphs">0.1 A.g</text>
<text x="288.9" y="26.8" font-size="6" fill="#ff22ff" font-family='"Liberation Sans", sans-serif'>-1</text>
<text x="256.1" y="43.55" font-size="9.0" fill="#1a1a1a" font-family='"Liberation Sans", sans-serif' textLength="32.2" lengthAdjust="spacingAndGlyphs">0.5 A.g</text>
<text x="288.9" y="39.25" font-size="6" fill="#1a1a1a" font-family='"Liberation Sans", sans-serif'>-1</text>
<text x="256.1" y="56" font-size="9.0" fill="#ff2222" font-family='"Liberation Sans", sans-serif' textLength="32.2" lengthAdjust="spacingAndGlyphs">1.0 A.g</text>
<text x="288.9" y="51.7" font-size="6" fill="#ff2222" font-family='"Liberation Sans", sans-serif'>-1</text>
<text x="256.1" y="68.45" font-size="9.0" fill="#2222ff" font-family='"Liberation Sans", sans-serif' textLength="32.2" lengthAdjust="spacingAndGlyphs">1.5 A.g</text>
<text x="288.9" y="64.15" font-size="6" fill="#2222ff" font-family='"Liberation Sans", sans-serif'>-1</text>
<text x="256.1" y="80.9" font-size="9.0" fill="#22ee22" font-family='"Liberation Sans", sans-serif' textLength="32.2" lengthAdjust="spacingAndGlyphs">2.0 A.g</text>
<text x="288.9" y="76.6" font-size="6" fill="#22ee22" font-family='"Liberation Sans", sans-serif'>-1</text>
<text x="256.1" y="93.35" font-size="9.0" fill="#858585" font-family='"Liberation Sans", sans-serif' textLength="32.2" lengthAdjust="spacingAndGlyphs">5.0 A.g</text>
<text x="288.9" y="89.05" font-size="6" fill="#858585" font-family='"Liberation Sans", sans-serif'>-1</text>
<text x="168.2" y="281.8" font-size="15" text-anchor="middle" fill="#111" font-family='"Liberation Serif", serif'>(<tspan font-weight="bold">a</tspan>)</text>
<line x1="471.5" y1="11" x2="471.5" y2="227.8" stroke="#111" stroke-width="1.2"/>
<line x1="469" y1="227.2" x2="686.37" y2="227.2" stroke="#111" stroke-width="1.2"/>
<line x1="467.5" y1="11.4" x2="471.5" y2="11.4" stroke="#111" stroke-width="1.0"/>
<text x="464.2" y="14.3" font-size="8.4" text-anchor="end" fill="#000" font-family='"Liberation Sans", sans-serif' >1.0</text>
<line x1="469.3" y1="31.01" x2="471.5" y2="31.01" stroke="#111" stroke-width="1.0"/>
<line x1="467.5" y1="50.62" x2="471.5" y2="50.62" stroke="#111" stroke-width="1.0"/>
<text x="464.2" y="53.52" font-size="8.4" text-anchor="end" fill="#000" font-family='"Liberation Sans", sans-serif' >0.8</text>
<line x1="469.3" y1="70.23" x2="471.5" y2="70.23" stroke="#111" stroke-width="1.0"/>
<line x1="467.5" y1="89.84" x2="471.5" y2="89.84" stroke="#111" stroke-width="1.0"/>
<text x="464.2" y="92.74" font-size="8.4" text-anchor="end" fill="#000" font-family='"Liberation Sans", sans-serif' >0.6</text>
<line x1="469.3" y1="109.45" x2="471.5" y2="109.45" stroke="#111" stroke-width="1.0"/>
<line x1="467.5" y1="129.06" x2="471.5" y2="129.06" stroke="#111" stroke-width="1.0"/>
<text x="464.2" y="131.96" font-size="8.4" text-anchor="end" fill="#000" font-family='"Liberation Sans", sans-serif' >0.4</text>
<line x1="469.3" y1="148.67" x2="471.5" y2="148.67" stroke="#111" stroke-width="1.0"/>
<line x1="467.5" y1="168.28" x2="471.5" y2="168.28" stroke="#111" stroke-width="1.0"/>
<text x="464.2" y="171.18" font-size="8.4" text-anchor="end" fill="#000" font-family='"Liberation Sans", sans-serif' >0.2</text>
<line x1="469.3" y1="187.89" x2="471.5" y2="187.89" stroke="#111" stroke-width="1.0"/>
<line x1="467.5" y1="207.5" x2="471.5" y2="207.5" stroke="#111" stroke-width="1.0"/>
<text x="464.2" y="210.4" font-size="8.4" text-anchor="end" fill="#000" font-family='"Liberation Sans", sans-serif' >0.0</text>
<line x1="469.3" y1="227.11" x2="471.5" y2="227.11" stroke="#111" stroke-width="1.0"/>
<line x1="472.53" y1="227.2" x2="472.53" y2="229.4" stroke="#111" stroke-width="1.0"/>
<line x1="490.3" y1="227.2" x2="490.3" y2="231.7" stroke="#111" stroke-width="1.0"/>
<text x="490.3" y="241.6" font-size="8.4" text-anchor="middle" fill="#000" font-family='"Liberation Sans", sans-serif' >0</text>
<line x1="508.07" y1="227.2" x2="508.07" y2="229.4" stroke="#111" stroke-width="1.0"/>
<line x1="525.84" y1="227.2" x2="525.84" y2="231.7" stroke="#111" stroke-width="1.0"/>
<text x="525.84" y="241.6" font-size="8.4" text-anchor="middle" fill="#000" font-family='"Liberation Sans", sans-serif' >200</text>
<line x1="543.61" y1="227.2" x2="543.61" y2="229.4" stroke="#111" stroke-width="1.0"/>
<line x1="561.38" y1="227.2" x2="561.38" y2="231.7" stroke="#111" stroke-width="1.0"/>
<text x="561.38" y="241.6" font-size="8.4" text-anchor="middle" fill="#000" font-family='"Liberation Sans", sans-serif' >400</text>
<line x1="579.15" y1="227.2" x2="579.15" y2="229.4" stroke="#111" stroke-width="1.0"/>
<line x1="596.92" y1="227.2" x2="596.92" y2="231.7" stroke="#111" stroke-width="1.0"/>
<text x="596.92" y="241.6" font-size="8.4" text-anchor="middle" fill="#000" font-family='"Liberation Sans", sans-serif' >600</text>
<line x1="614.69" y1="227.2" x2="614.69" y2="229.4" stroke="#111" stroke-width="1.0"/>
<line x1="632.46" y1="227.2" x2="632.46" y2="231.7" stroke="#111" stroke-width="1.0"/>
<text x="632.46" y="241.6" font-size="8.4" text-anchor="middle" fill="#000" font-family='"Liberation Sans", sans-serif' >800</text>
<line x1="650.23" y1="227.2" x2="650.23" y2="229.4" stroke="#111" stroke-width="1.0"/>
<line x1="668" y1="227.2" x2="668" y2="231.7" stroke="#111" stroke-width="1.0"/>
<text x="668" y="241.6" font-size="8.4" text-anchor="middle" fill="#000" font-family='"Liberation Sans", sans-serif' >1000</text>
<line x1="685.77" y1="227.2" x2="685.77" y2="229.4" stroke="#111" stroke-width="1.0"/>
<text x="568.7" y="258.6" font-size="10.2" text-anchor="middle" fill="#000" font-family='"Liberation Sans", sans-serif'  textLength="50.2" lengthAdjust="spacingAndGlyphs">Time (sec)</text>
<text transform="translate(445.4,117.0) rotate(-90)" font-size="10.3" text-anchor="middle" fill="#000" font-family='"Liberation Sans", sans-serif'>Potential (V)</text>
<polyline points="515.5,14.2 515.44,15.2 515.39,16.2 515.34,17.2 515.28,18.2 515.23,19.2 515.17,20.2 515.11,21.2 515.04,22.2 514.98,23.2 514.91,24.2 514.84,25.2 514.77,26.2 514.69,27.2 514.61,28.2 514.53,29.2 514.45,30.2 514.37,31.2 514.28,32.2 514.2,33.2 514.11,34.2 514.02,35.2 513.92,36.2 513.83,37.2 513.73,38.2 513.63,39.2 513.53,40.2 513.43,41.2 513.32,42.2 513.21,43.2 513.11,44.2 513,45.2 512.88,46.2 512.77,47.2 512.65,48.2 512.54,49.2 512.42,50.2 512.29,51.2 512.17,52.2 512.05,53.2 511.92,54.2 511.79,55.2 511.66,56.2 511.53,57.2 511.4,58.2 511.27,59.2 511.13,60.2 511,61.2 510.86,62.2 510.72,63.2 510.58,64.2 510.43,65.2 510.29,66.2 510.14,67.2 510,68.2 509.85,69.2 509.7,70.2 509.55,71.2 509.4,72.2 509.24,73.2 509.09,74.2 508.93,75.2 508.77,76.2 508.62,77.2 508.46,78.2 508.3,79.2 508.13,80.2 507.97,81.2 507.81,82.2 507.64,83.2 507.48,84.2 507.31,85.2 507.14,86.2 506.97,87.2 506.8,88.2 506.63,89.2 506.46,90.2 506.29,91.2 506.11,92.2 505.94,93.2 505.76,94.2 505.59,95.2 505.41,96.2 505.23,97.2 505.05,98.2 504.88,99.2 504.7,100.2 504.51,101.2 504.33,102.2 504.15,103.2 503.97,104.2 503.78,105.2 503.6,106.2 503.42,107.2 503.23,108.2 503.05,109.2 502.86,110.2 502.67,111.2 502.48,112.2 502.3,113.2 502.11,114.2 501.92,115.2 501.73,116.2 501.54,117.2 501.35,118.2 501.16,119.2 500.97,120.2 500.78,121.2 500.59,122.2 500.4,123.2 500.21,124.2 500.01,125.2 499.82,126.2 499.63,127.2 499.44,128.2 499.24,129.2 499.05,130.2 498.86,131.2 498.67,132.2 498.47,133.2 498.28,134.2 498.09,135.2 497.89,136.2 497.7,137.2 497.51,138.2 497.31,139.2 497.12,140.2 496.93,141.2 496.74,142.2 496.54,143.2 496.35,144.2 496.16,145.2 495.97,146.2 495.78,147.2 495.59,148.2 495.4,149.2 495.21,150.2 495.02,151.2 494.84,152.2 494.65,153.2 494.47,154.2 494.29,155.2 494.11,156.2 493.93,157.2 493.76,158.2 493.58,159.2 493.41,160.2 493.24,161.2 493.08,162.2 492.91,163.2 492.75,164.2 492.59,165.2 492.43,166.2 492.28,167.2 492.13,168.2 491.98,169.2 491.83,170.2 491.69,171.2 491.56,172.2 491.42,173.2 491.29,174.2 491.16,175.2 491.04,176.2 490.92,177.2 490.8,178.2 490.69,179.2 490.59,180.2 490.48,181.2 490.39,182.2 490.29,183.2 490.2,184.2 490.12,185.2 490.04,186.2 489.97,187.2 489.9,188.2 489.84,189.2 489.78,190.2 489.73,191.2 489.68,192.2 489.64,193.2 489.6,194.2 489.57,195.2 489.55,196.2 489.53,197.2 489.52,198.2 489.52,199.2 489.52,200.2 489.53,201.2 489.54,202.2 489.56,203.2 489.59,204.2 489.63,205.2 489.67,206.2 489.72,207.2 489.78,208.2 489.84,209.2 489.92,210.2 490,211.2 490.09,212.2 490.18,213.2 490.29,214.2 490.4,215.2 490.5,216" fill="none" stroke="#858585" stroke-width="0.95"  stroke-linecap="round" stroke-linejoin="round"/>
<polyline points="515.5,14.2 515.5,15.2 515.49,16.2 515.49,17.2 515.49,18.2 515.48,19.2 515.48,20.2 515.47,21.2 515.47,22.2 515.46,23.2 515.45,24.2 515.45,25.2 515.44,26.2 515.44,27.2 515.43,28.2 515.42,29.2 515.42,30.2 515.41,31.2 515.4,32.2 515.4,33.2 515.39,34.2 515.38,35.2 515.37,36.2 515.37,37.2 515.36,38.2 515.35,39.2 515.35,40.2 515.34,41.2 515.33,42.2 515.33,43.2 515.32,44.2 515.31,45.2 515.31,46.2 515.3,47.2 515.29,48.2 515.29,49.2 515.28,50.2 515.28,51.2 515.27,52.2 515.27,53.2 515.26,54.2 515.26,55.2 515.25,56.2 515.25,57.2 515.24,58.2 515.24,59.2 515.24,60.2 515.23,61.2 515.23,62.2 515.23,63.2 515.23,64.2 515.23,65.2 515.22,66.2 515.22,67.2 515.22,68.2 515.22,69.2 515.22,70.2 515.22,71.2 515.23,72.2 515.23,73.2 515.23,74.2 515.23,75.2 515.24,76.2 515.24,77.2 515.24,78.2 515.25,79.2 515.26,80.2 515.26,81.2 515.27,82.2 515.28,83.2 515.28,84.2 515.29,85.2 515.3,86.2 515.31,87.2 515.32,88.2 515.33,89.2 515.35,90.2 515.36,91.2 515.37,92.2 515.39,93.2 515.4,94.2 515.42,95.2 515.43,96.2 515.45,97.2 515.47,98.2 515.49,99.2 515.51,100.2 515.53,101.2 515.55,102.2 515.57,103.2 515.6,104.2 515.62,105.2 515.65,106.2 515.67,107.2 515.7,108.2 515.73,109.2 515.76,110.2 515.79,111.2 515.82,112.2 515.85,113.2 515.89,114.2 515.92,115.2 515.96,116.2 515.99,117.2 516.03,118.2 516.07,119.2 516.11,120.2 516.15,121.2 516.19,122.2 516.23,123.2 516.28,124.2 516.32,125.2 516.37,126.2 516.42,127.2 516.47,128.2 516.52,129.2 516.57,130.2 516.62,131.2 516.68,132.2 516.73,133.2 516.79,134.2 516.85,135.2 516.91,136.2 516.97,137.2 517.03,138.2 517.09,139.2 517.16,140.2 517.22,141.2 517.29,142.2 517.36,143.2 517.43,144.2 517.5,145.2 517.58,146.2 517.65,147.2 517.73,148.2 517.81,149.2 517.89,150.2 517.97,151.2 518.05,152.2 518.13,153.2 518.22,154.2 518.31,155.2 518.4,156.2 518.49,157.2 518.58,158.2 518.67,159.2 518.77,160.2 518.87,161.2 518.97,162.2 519.07,163.2 519.17,164.2 519.27,165.2 519.38,166.2 519.49,167.2 519.59,168.2 519.71,169.2 519.82,170.2 519.93,171.2 520.05,172.2 520.17,173.2 520.29,174.2 520.41,175.2 520.53,176.2 520.66,177.2 520.79,178.2 520.92,179.2 521.05,180.2 521.18,181.2 521.32,182.2 521.45,183.2 521.59,184.2 521.74,185.2 521.88,186.2 522.02,187.2 522.17,188.2 522.32,189.2 522.47,190.2 522.63,191.2 522.78,192.2 522.94,193.2 523.1,194.2 523.26,195.2 523.43,196.2 523.59,197.2 523.76,198.2 523.93,199.2 524.1,200.2 524.28,201.2 524.46,202.2 524.64,203.2 524.82,204.2 525,205.2 525.19,206.2 525.38,207.2 525.57,208.2 525.76,209.2 525.96,210.2 526.16,211.2 526.36,212.2 526.56,213.2 526.76,214.2 526.97,215.2 527.18,216.2 527.39,217.2 527.61,218.2 527.83,219.2 528.04,220.2 528.27,221.2 528.49,222.2 528.72,223.2 528.95,224.2 529.18,225.2 529.42,226.2 529.6,227" fill="none" stroke="#858585" stroke-width="0.95"  stroke-linecap="round" stroke-linejoin="round"/>
<polyline points="569.1,14.2 568.96,15.2 568.79,16.2 568.61,17.2 568.42,18.2 568.22,19.2 568,20.2 567.77,21.2 567.53,22.2 567.28,23.2 567.01,24.2 566.74,25.2 566.45,26.2 566.15,27.2 565.84,28.2 565.52,29.2 565.19,30.2 564.84,31.2 564.49,32.2 564.13,33.2 563.75,34.2 563.37,35.2 562.98,36.2 562.58,37.2 562.17,38.2 561.74,39.2 561.32,40.2 560.88,41.2 560.43,42.2 559.98,43.2 559.51,44.2 559.04,45.2 558.56,46.2 558.07,47.2 557.58,48.2 557.08,49.2 556.57,50.2 556.05,51.2 555.53,52.2 555,53.2 554.46,54.2 553.92,55.2 553.37,56.2 552.82,57.2 552.26,58.2 551.69,59.2 551.12,60.2 550.55,61.2 549.97,62.2 549.38,63.2 548.79,64.2 548.19,65.2 547.59,66.2 546.99,67.2 546.38,68.2 545.77,69.2 545.16,70.2 544.54,71.2 543.92,72.2 543.29,73.2 542.67,74.2 542.04,75.2 541.4,76.2 540.77,77.2 540.13,78.2 539.49,79.2 538.85,80.2 538.21,81.2 537.56,82.2 536.92,83.2 536.27,84.2 535.63,85.2 534.98,86.2 534.33,87.2 533.68,88.2 533.03,89.2 532.38,90.2 531.73,91.2 531.08,92.2 530.44,93.2 529.79,94.2 529.14,95.2 528.5,96.2 527.85,97.2 527.21,98.2 526.57,99.2 525.93,100.2 525.29,101.2 524.66,102.2 524.02,103.2 523.39,104.2 522.76,105.2 522.14,106.2 521.52,107.2 520.9,108.2 520.28,109.2 519.67,110.2 519.06,111.2 518.46,112.2 517.86,113.2 517.26,114.2 516.67,115.2 516.08,116.2 515.5,117.2 514.92,118.2 514.35,119.2 513.78,120.2 513.22,121.2 512.66,122.2 512.11,123.2 511.57,124.2 511.03,125.2 510.49,126.2 509.96,127.2 509.43,128.2 508.91,129.2 508.4,130.2 507.89,131.2 507.39,132.2 506.89,133.2 506.4,134.2 505.91,135.2 505.43,136.2 504.96,137.2 504.49,138.2 504.03,139.2 503.57,140.2 503.12,141.2 502.68,142.2 502.24,143.2 501.81,144.2 501.38,145.2 500.96,146.2 500.55,147.2 500.14,148.2 499.74,149.2 499.35,150.2 498.96,151.2 498.58,152.2 498.21,153.2 497.84,154.2 497.48,155.2 497.12,156.2 496.78,157.2 496.44,158.2 496.1,159.2 495.78,160.2 495.46,161.2 495.14,162.2 494.84,163.2 494.54,164.2 494.25,165.2 493.96,166.2 493.68,167.2 493.41,168.2 493.15,169.2 492.9,170.2 492.65,171.2 492.41,172.2 492.17,173.2 491.95,174.2 491.73,175.2 491.52,176.2 491.32,177.2 491.12,178.2 490.94,179.2 490.76,180.2 490.59,181.2 490.42,182.2 490.27,183.2 490.12,184.2 489.98,185.2 489.85,186.2 489.73,187.2 489.61,188.2 489.51,189.2 489.41,190.2 489.32,191.2 489.24,192.2 489.16,193.2 489.1,194.2 489.04,195.2 488.99,196.2 488.96,197.2 488.93,198.2 488.9,199.2 488.89,200.2 488.89,201.2 488.89,202.2 488.91,203.2 488.93,204.2 488.96,205.2 489,206.2 489.05,207.2 489.11,208.2 489.18,209.2 489.25,210.2 489.34,211.2 489.44,212.2 489.54,213.2 489.66,214.2 489.78,215.2 489.91,216.2 490.06,217.2 490.21,218.2 490.37,219.2 490.5,220" fill="none" stroke="#2222ff" stroke-width="0.95"  stroke-linecap="round" stroke-linejoin="round"/>
<polyline points="569.1,14.2 568.99,15.2 568.88,16.2 568.79,17.2 568.71,18.2 568.63,19.2 568.57,20.2 568.52,21.2 568.47,22.2 568.44,23.2 568.42,24.2 568.4,25.2 568.4,26.2 568.4,27.2 568.42,28.2 568.44,29.2 568.47,30.2 568.51,31.2 568.56,32.2 568.62,33.2 568.69,34.2 568.77,35.2 568.85,36.2 568.94,37.2 569.05,38.2 569.16,39.2 569.27,40.2 569.4,41.2 569.53,42.2 569.68,43.2 569.83,44.2 569.98,45.2 570.15,46.2 570.32,47.2 570.5,48.2 570.69,49.2 570.88,50.2 571.08,51.2 571.29,52.2 571.51,53.2 571.73,54.2 571.96,55.2 572.2,56.2 572.44,57.2 572.69,58.2 572.94,59.2 573.2,60.2 573.47,61.2 573.75,62.2 574.03,63.2 574.31,64.2 574.6,65.2 574.9,66.2 575.2,67.2 575.51,68.2 575.82,69.2 576.14,70.2 576.47,71.2 576.8,72.2 577.13,73.2 577.47,74.2 577.81,75.2 578.16,76.2 578.52,77.2 578.88,78.2 579.24,79.2 579.61,80.2 579.98,81.2 580.35,82.2 580.73,83.2 581.12,84.2 581.5,85.2 581.89,86.2 582.29,87.2 582.69,88.2 583.09,89.2 583.5,90.2 583.91,91.2 584.32,92.2 584.73,93.2 585.15,94.2 585.57,95.2 586,96.2 586.43,97.2 586.86,98.2 587.29,99.2 587.72,100.2 588.16,101.2 588.6,102.2 589.04,103.2 589.49,104.2 589.93,105.2 590.38,106.2 590.83,107.2 591.28,108.2 591.74,109.2 592.19,110.2 592.65,111.2 593.11,112.2 593.56,113.2 594.02,114.2 594.49,115.2 594.95,116.2 595.41,117.2 595.88,118.2 596.34,119.2 596.81,120.2 597.28,121.2 597.75,122.2 598.22,123.2 598.69,124.2 599.17,125.2 599.64,126.2 600.12,127.2 600.59,128.2 601.07,129.2 601.55,130.2 602.03,131.2 602.51,132.2 602.99,133.2 603.47,134.2 603.96,135.2 604.44,136.2 604.93,137.2 605.41,138.2 605.9,139.2 606.39,140.2 606.88,141.2 607.37,142.2 607.86,143.2 608.35,144.2 608.84,145.2 609.34,146.2 609.83,147.2 610.33,148.2 610.82,149.2 611.32,150.2 611.82,151.2 612.32,152.2 612.81,153.2 613.31,154.2 613.82,155.2 614.32,156.2 614.82,157.2 615.32,158.2 615.83,159.2 616.33,160.2 616.84,161.2 617.34,162.2 617.85,163.2 618.36,164.2 618.86,165.2 619.37,166.2 619.88,167.2 620.39,168.2 620.9,169.2 621.41,170.2 621.92,171.2 622.43,172.2 622.95,173.2 623.46,174.2 623.97,175.2 624.49,176.2 625,177.2 625.52,178.2 626.03,179.2 626.55,180.2 627.06,181.2 627.58,182.2 628.1,183.2 628.62,184.2 629.13,185.2 629.65,186.2 630.17,187.2 630.69,188.2 631.21,189.2 631.73,190.2 632.25,191.2 632.77,192.2 633.29,193.2 633.81,194.2 634.33,195.2 634.86,196.2 635.38,197.2 635.9,198.2 636.42,199.2 636.95,200.2 637.47,201.2 637.99,202.2 638.51,203.2 639.04,204.2 639.56,205.2 640.08,206.2 640.61,207.2 641.13,208.2 641.66,209.2 642.18,210.2 642.71,211.2 643.23,212.2 643.75,213.2 644.28,214.2 644.8,215.2 645.33,216.2 645.85,217.2 646.38,218.2 646.9,219.2 647.43,220.2 647.95,221.2 648.48,222.2 649,223.2 649.52,224.2 650.05,225.2 650.57,226.2 651,227" fill="none" stroke="#2222ff" stroke-width="0.95"  stroke-linecap="round" stroke-linejoin="round"/>
<polyline points="574,14.2 573.69,15.2 573.38,16.2 573.08,17.2 572.77,18.2 572.46,19.2 572.15,20.2 571.84,21.2 571.52,22.2 571.21,23.2 570.89,24.2 570.57,25.2 570.25,26.2 569.93,27.2 569.6,28.2 569.28,29.2 568.95,30.2 568.62,31.2 568.28,32.2 567.95,33.2 567.61,34.2 567.26,35.2 566.92,36.2 566.57,37.2 566.22,38.2 565.87,39.2 565.51,40.2 565.15,41.2 564.79,42.2 564.42,43.2 564.05,44.2 563.67,45.2 563.3,46.2 562.91,47.2 562.53,48.2 562.14,49.2 561.75,50.2 561.35,51.2 560.95,52.2 560.54,53.2 560.13,54.2 559.72,55.2 559.3,56.2 558.88,57.2 558.45,58.2 558.01,59.2 557.58,60.2 557.13,61.2 556.69,62.2 556.23,63.2 555.77,64.2 555.31,65.2 554.84,66.2 554.37,67.2 553.89,68.2 553.4,69.2 552.91,70.2 552.41,71.2 551.91,72.2 551.4,73.2 550.89,74.2 550.37,75.2 549.84,76.2 549.31,77.2 548.77,78.2 548.22,79.2 547.67,80.2 547.11,81.2 546.54,82.2 545.97,83.2 545.39,84.2 544.8,85.2 544.2,86.2 543.6,87.2 542.99,88.2 542.38,89.2 541.75,90.2 541.12,91.2 540.48,92.2 539.84,93.2 539.18,94.2 538.52,95.2 537.86,96.2 537.18,97.2 536.5,98.2 535.82,99.2 535.13,100.2 534.43,101.2 533.73,102.2 533.03,103.2 532.33,104.2 531.63,105.2 530.92,106.2 530.21,107.2 529.5,108.2 528.8,109.2 528.09,110.2 527.38,111.2 526.68,112.2 525.98,113.2 525.28,114.2 524.58,115.2 523.89,116.2 523.2,117.2 522.51,118.2 521.83,119.2 521.16,120.2 520.5,121.2 519.84,122.2 519.18,123.2 518.54,124.2 517.9,125.2 517.28,126.2 516.66,127.2 516.05,128.2 515.45,129.2 514.86,130.2 514.28,131.2 513.71,132.2 513.14,133.2 512.59,134.2 512.04,135.2 511.5,136.2 510.98,137.2 510.46,138.2 509.94,139.2 509.44,140.2 508.95,141.2 508.46,142.2 507.98,143.2 507.51,144.2 507.05,145.2 506.6,146.2 506.15,147.2 505.71,148.2 505.28,149.2 504.86,150.2 504.45,151.2 504.04,152.2 503.64,153.2 503.25,154.2 502.86,155.2 502.49,156.2 502.12,157.2 501.76,158.2 501.4,159.2 501.05,160.2 500.71,161.2 500.38,162.2 500.05,163.2 499.73,164.2 499.42,165.2 499.12,166.2 498.82,167.2 498.52,168.2 498.24,169.2 497.96,170.2 497.69,171.2 497.42,172.2 497.16,173.2 496.9,174.2 496.66,175.2 496.41,176.2 496.18,177.2 495.95,178.2 495.73,179.2 495.51,180.2 495.3,181.2 495.09,182.2 494.89,183.2 494.69,184.2 494.51,185.2 494.32,186.2 494.14,187.2 493.97,188.2 493.8,189.2 493.64,190.2 493.48,191.2 493.33,192.2 493.18,193.2 493.04,194.2 492.9,195.2 492.77,196.2 492.64,197.2 492.52,198.2 492.4,199.2 492.29,200.2 492.18,201.2 492.08,202.2 491.98,203.2 491.88,204.2 491.79,205.2 491.7,206.2 491.62,207.2 491.54,208.2 491.46,209.2 491.39,210.2 491.33,211.2 491.26,212.2 491.2,213.2 491.15,214.2 491.09,215.2 491.05,216.2 491,217" fill="none" stroke="#ff22ff" stroke-width="0.95"  stroke-linecap="round" stroke-linejoin="round"/>
<polyline points="574,14.2 574.11,15.2 574.22,16.2 574.34,17.2 574.46,18.2 574.57,19.2 574.69,20.2 574.8,21.2 574.92,22.2 575.03,23.2 575.15,24.2 575.26,25.2 575.38,26.2 575.49,27.2 575.61,28.2 575.72,29.2 575.84,30.2 575.96,31.2 576.07,32.2 576.19,33.2 576.31,34.2 576.43,35.2 576.54,36.2 576.66,37.2 576.78,38.2 576.9,39.2 577.03,40.2 577.15,41.2 577.27,42.2 577.4,43.2 577.52,44.2 577.65,45.2 577.78,46.2 577.91,47.2 578.04,48.2 578.17,49.2 578.3,50.2 578.43,51.2 578.57,52.2 578.7,53.2 578.84,54.2 578.98,55.2 579.12,56.2 579.27,57.2 579.41,58.2 579.56,59.2 579.71,60.2 579.86,61.2 580.01,62.2 580.16,63.2 580.32,64.2 580.47,65.2 580.63,66.2 580.8,67.2 580.96,68.2 581.13,69.2 581.3,70.2 581.47,71.2 581.64,72.2 581.82,73.2 581.99,74.2 582.17,75.2 582.36,76.2 582.54,77.2 582.73,78.2 582.92,79.2 583.12,80.2 583.32,81.2 583.52,82.2 583.72,83.2 583.92,84.2 584.13,85.2 584.35,86.2 584.56,87.2 584.78,88.2 585,89.2 585.22,90.2 585.45,91.2 585.68,92.2 585.92,93.2 586.16,94.2 586.4,95.2 586.64,96.2 586.89,97.2 587.15,98.2 587.4,99.2 587.66,100.2 587.93,101.2 588.19,102.2 588.47,103.2 588.74,104.2 589.02,105.2 589.31,106.2 589.59,107.2 589.89,108.2 590.18,109.2 590.48,110.2 590.79,111.2 591.1,112.2 591.41,113.2 591.73,114.2 592.05,115.2 592.38,116.2 592.71,117.2 593.05,118.2 593.39,119.2 593.73,120.2 594.08,121.2 594.44,122.2 594.8,123.2 595.17,124.2 595.54,125.2 595.91,126.2 596.29,127.2 596.68,128.2 597.07,129.2 597.47,130.2 597.87,131.2 598.27,132.2 598.69,133.2 599.1,134.2 599.53,135.2 599.95,136.2 600.39,137.2 600.83,138.2 601.27,139.2 601.72,140.2 602.18,141.2 602.64,142.2 603.11,143.2 603.58,144.2 604.06,145.2 604.55,146.2 605.04,147.2 605.53,148.2 606.04,149.2 606.54,150.2 607.06,151.2 607.58,152.2 608.11,153.2 608.64,154.2 609.18,155.2 609.72,156.2 610.27,157.2 610.83,158.2 611.39,159.2 611.96,160.2 612.54,161.2 613.12,162.2 613.71,163.2 614.31,164.2 614.91,165.2 615.52,166.2 616.13,167.2 616.75,168.2 617.38,169.2 618.02,170.2 618.66,171.2 619.31,172.2 619.96,173.2 620.63,174.2 621.29,175.2 621.97,176.2 622.65,177.2 623.34,178.2 624.04,179.2 624.74,180.2 625.45,181.2 626.17,182.2 626.9,183.2 627.63,184.2 628.37,185.2 629.11,186.2 629.87,187.2 630.63,188.2 631.4,189.2 632.17,190.2 632.96,191.2 633.74,192.2 634.54,193.2 635.34,194.2 636.14,195.2 636.95,196.2 637.76,197.2 638.57,198.2 639.38,199.2 640.2,200.2 641.02,201.2 641.83,202.2 642.65,203.2 643.46,204.2 644.28,205.2 645.09,206.2 645.9,207.2 646.7,208.2 647.5,209.2 648.3,210.2 649.09,211.2 649.87,212.2 650.65,213.2 651.42,214.2 652.18,215.2 652.94,216.2 653.69,217.2 654.42,218.2 655.15,219.2 655.87,220.2 656.57,221.2 657.27,222.2 657.95,223.2 658.62,224.2 659.27,225.2 659.91,226.2 660.4,227" fill="none" stroke="#ff22ff" stroke-width="0.95"  stroke-linecap="round" stroke-linejoin="round"/>
<polyline points="585.4,14.4 585.15,15.4 584.87,16.4 584.58,17.4 584.27,18.4 583.95,19.4 583.61,20.4 583.26,21.4 582.89,22.4 582.52,23.4 582.12,24.4 581.72,25.4 581.3,26.4 580.88,27.4 580.44,28.4 579.98,29.4 579.52,30.4 579.04,31.4 578.56,32.4 578.06,33.4 577.55,34.4 577.03,35.4 576.5,36.4 575.96,37.4 575.41,38.4 574.85,39.4 574.29,40.4 573.71,41.4 573.12,42.4 572.53,43.4 571.92,44.4 571.31,45.4 570.69,46.4 570.06,47.4 569.43,48.4 568.78,49.4 568.13,50.4 567.48,51.4 566.81,52.4 566.14,53.4 565.47,54.4 564.79,55.4 564.1,56.4 563.4,57.4 562.7,58.4 562,59.4 561.29,60.4 560.58,61.4 559.86,62.4 559.14,63.4 558.41,64.4 557.68,65.4 556.95,66.4 556.21,67.4 555.47,68.4 554.73,69.4 553.98,70.4 553.23,71.4 552.48,72.4 551.73,73.4 550.98,74.4 550.22,75.4 549.47,76.4 548.71,77.4 547.95,78.4 547.19,79.4 546.43,80.4 545.67,81.4 544.91,82.4 544.15,83.4 543.4,84.4 542.64,85.4 541.88,86.4 541.12,87.4 540.37,88.4 539.62,89.4 538.87,90.4 538.12,91.4 537.37,92.4 536.63,93.4 535.89,94.4 535.15,95.4 534.42,96.4 533.68,97.4 532.96,98.4 532.23,99.4 531.51,100.4 530.8,101.4 530.09,102.4 529.38,103.4 528.68,104.4 527.99,105.4 527.3,106.4 526.61,107.4 525.93,108.4 525.26,109.4 524.6,110.4 523.94,111.4 523.28,112.4 522.64,113.4 522,114.4 521.37,115.4 520.75,116.4 520.13,117.4 519.53,118.4 518.93,119.4 518.34,120.4 517.76,121.4 517.19,122.4 516.63,123.4 516.08,124.4 515.53,125.4 515,126.4 514.48,127.4 513.96,128.4 513.46,129.4 512.96,130.4 512.48,131.4 512,132.4 511.54,133.4 511.08,134.4 510.63,135.4 510.18,136.4 509.75,137.4 509.33,138.4 508.91,139.4 508.5,140.4 508.1,141.4 507.71,142.4 507.32,143.4 506.95,144.4 506.58,145.4 506.21,146.4 505.86,147.4 505.51,148.4 505.17,149.4 504.83,150.4 504.5,151.4 504.18,152.4 503.86,153.4 503.55,154.4 503.25,155.4 502.95,156.4 502.66,157.4 502.38,158.4 502.1,159.4 501.82,160.4 501.55,161.4 501.29,162.4 501.03,163.4 500.77,164.4 500.52,165.4 500.28,166.4 500.04,167.4 499.8,168.4 499.57,169.4 499.35,170.4 499.12,171.4 498.9,172.4 498.69,173.4 498.48,174.4 498.27,175.4 498.06,176.4 497.86,177.4 497.66,178.4 497.47,179.4 497.28,180.4 497.09,181.4 496.9,182.4 496.72,183.4 496.53,184.4 496.35,185.4 496.18,186.4 496,187.4 495.83,188.4 495.66,189.4 495.49,190.4 495.32,191.4 495.15,192.4 494.98,193.4 494.82,194.4 494.65,195.4 494.49,196.4 494.33,197.4 494.17,198.4 494.01,199.4 493.84,200.4 493.68,201.4 493.52,202.4 493.36,203.4 493.2,204.4 493.04,205.4 492.88,206.4 492.72,207.4 492.55,208.4 492.39,209.4 492.22,210.4 492.06,211.4 491.89,212.4 491.72,213.4 491.55,214.4 491.5,214.6" fill="none" stroke="#ff2222" stroke-width="0.95"  stroke-linecap="round" stroke-linejoin="round"/>
<polyline points="585.4,14.4 585.42,15.4 585.43,16.4 585.44,17.4 585.45,18.4 585.47,19.4 585.48,20.4 585.51,21.4 585.53,22.4 585.56,23.4 585.59,24.4 585.62,25.4 585.66,26.4 585.69,27.4 585.74,28.4 585.78,29.4 585.83,30.4 585.88,31.4 585.94,32.4 585.99,33.4 586.06,34.4 586.12,35.4 586.19,36.4 586.26,37.4 586.34,38.4 586.42,39.4 586.5,40.4 586.59,41.4 586.68,42.4 586.77,43.4 586.87,44.4 586.97,45.4 587.08,46.4 587.19,47.4 587.3,48.4 587.41,49.4 587.53,50.4 587.65,51.4 587.78,52.4 587.9,53.4 588.03,54.4 588.15,55.4 588.28,56.4 588.41,57.4 588.55,58.4 588.68,59.4 588.81,60.4 588.95,61.4 589.08,62.4 589.21,63.4 589.35,64.4 589.48,65.4 589.61,66.4 589.74,67.4 589.88,68.4 590,69.4 590.13,70.4 590.26,71.4 590.39,72.4 590.51,73.4 590.64,74.4 590.77,75.4 590.89,76.4 591.02,77.4 591.15,78.4 591.27,79.4 591.4,80.4 591.53,81.4 591.67,82.4 591.8,83.4 591.93,84.4 592.07,85.4 592.21,86.4 592.35,87.4 592.5,88.4 592.64,89.4 592.79,90.4 592.94,91.4 593.1,92.4 593.26,93.4 593.43,94.4 593.59,95.4 593.76,96.4 593.94,97.4 594.12,98.4 594.31,99.4 594.5,100.4 594.69,101.4 594.89,102.4 595.1,103.4 595.31,104.4 595.53,105.4 595.76,106.4 595.99,107.4 596.23,108.4 596.47,109.4 596.72,110.4 596.98,111.4 597.25,112.4 597.52,113.4 597.8,114.4 598.09,115.4 598.39,116.4 598.69,117.4 599.01,118.4 599.33,119.4 599.66,120.4 600,121.4 600.35,122.4 600.7,123.4 601.06,124.4 601.43,125.4 601.81,126.4 602.2,127.4 602.59,128.4 602.99,129.4 603.4,130.4 603.82,131.4 604.24,132.4 604.67,133.4 605.11,134.4 605.55,135.4 606,136.4 606.46,137.4 606.93,138.4 607.4,139.4 607.88,140.4 608.37,141.4 608.86,142.4 609.36,143.4 609.86,144.4 610.38,145.4 610.89,146.4 611.42,147.4 611.95,148.4 612.49,149.4 613.03,150.4 613.58,151.4 614.13,152.4 614.69,153.4 615.26,154.4 615.83,155.4 616.41,156.4 616.99,157.4 617.58,158.4 618.18,159.4 618.77,160.4 619.38,161.4 619.99,162.4 620.61,163.4 621.23,164.4 621.85,165.4 622.48,166.4 623.12,167.4 623.76,168.4 624.4,169.4 625.05,170.4 625.7,171.4 626.36,172.4 627.02,173.4 627.69,174.4 628.36,175.4 629.04,176.4 629.72,177.4 630.4,178.4 631.09,179.4 631.78,180.4 632.48,181.4 633.17,182.4 633.88,183.4 634.58,184.4 635.29,185.4 636.01,186.4 636.73,187.4 637.45,188.4 638.17,189.4 638.9,190.4 639.63,191.4 640.36,192.4 641.1,193.4 641.84,194.4 642.58,195.4 643.32,196.4 644.07,197.4 644.82,198.4 645.57,199.4 646.33,200.4 647.09,201.4 647.85,202.4 648.61,203.4 649.38,204.4 650.14,205.4 650.91,206.4 651.68,207.4 652.46,208.4 653.23,209.4 654.01,210.4 654.79,211.4 655.57,212.4 656.35,213.4 657.13,214.4 657.92,215.4 658.7,216.4 659.49,217.4 660.28,218.4 661.07,219.4 661.86,220.4 662.65,221.4 663.44,222.4 664.24,223.4 665.03,224.4 665.83,225.4 666.62,226.4 667.1,227" fill="none" stroke="#ff2222" stroke-width="0.95"  stroke-linecap="round" stroke-linejoin="round"/>
<polyline points="597.4,14.2 596.81,15.2 596.21,16.2 595.61,17.2 595.01,18.2 594.41,19.2 593.8,20.2 593.19,21.2 592.58,22.2 591.96,23.2 591.35,24.2 590.72,25.2 590.1,26.2 589.47,27.2 588.84,28.2 588.21,29.2 587.57,30.2 586.93,31.2 586.29,32.2 585.65,33.2 585,34.2 584.35,35.2 583.7,36.2 583.05,37.2 582.39,38.2 581.73,39.2 581.07,40.2 580.41,41.2 579.74,42.2 579.08,43.2 578.41,44.2 577.73,45.2 577.06,46.2 576.38,47.2 575.7,48.2 575.02,49.2 574.34,50.2 573.66,51.2 572.97,52.2 572.28,53.2 571.59,54.2 570.9,55.2 570.21,56.2 569.51,57.2 568.81,58.2 568.12,59.2 567.42,60.2 566.71,61.2 566.01,62.2 565.31,63.2 564.6,64.2 563.89,65.2 563.18,66.2 562.47,67.2 561.76,68.2 561.05,69.2 560.33,70.2 559.62,71.2 558.9,72.2 558.18,73.2 557.47,74.2 556.75,75.2 556.02,76.2 555.3,77.2 554.58,78.2 553.86,79.2 553.13,80.2 552.41,81.2 551.68,82.2 550.96,83.2 550.23,84.2 549.5,85.2 548.77,86.2 548.04,87.2 547.31,88.2 546.58,89.2 545.85,90.2 545.12,91.2 544.39,92.2 543.66,93.2 542.92,94.2 542.19,95.2 541.46,96.2 540.73,97.2 539.99,98.2 539.26,99.2 538.53,100.2 537.79,101.2 537.06,102.2 536.33,103.2 535.59,104.2 534.86,105.2 534.13,106.2 533.39,107.2 532.66,108.2 531.93,109.2 531.2,110.2 530.46,111.2 529.73,112.2 529,113.2 528.27,114.2 527.54,115.2 526.81,116.2 526.08,117.2 525.35,118.2 524.63,119.2 523.9,120.2 523.17,121.2 522.45,122.2 521.72,123.2 521,124.2 520.27,125.2 519.55,126.2 518.83,127.2 518.11,128.2 517.39,129.2 516.67,130.2 515.95,131.2 515.24,132.2 514.53,133.2 513.82,134.2 513.11,135.2 512.41,136.2 511.71,137.2 511.02,138.2 510.33,139.2 509.64,140.2 508.97,141.2 508.3,142.2 507.63,143.2 506.98,144.2 506.33,145.2 505.69,146.2 505.06,147.2 504.44,148.2 503.83,149.2 503.22,150.2 502.63,151.2 502.05,152.2 501.48,153.2 500.93,154.2 500.38,155.2 499.85,156.2 499.33,157.2 498.83,158.2 498.34,159.2 497.86,160.2 497.4,161.2 496.95,162.2 496.51,163.2 496.09,164.2 495.69,165.2 495.3,166.2 494.92,167.2 494.56,168.2 494.21,169.2 493.88,170.2 493.56,171.2 493.26,172.2 492.97,173.2 492.69,174.2 492.44,175.2 492.19,176.2 491.96,177.2 491.75,178.2 491.55,179.2 491.36,180.2 491.18,181.2 491.02,182.2 490.87,183.2 490.73,184.2 490.6,185.2 490.48,186.2 490.37,187.2 490.28,188.2 490.19,189.2 490.11,190.2 490.04,191.2 489.98,192.2 489.93,193.2 489.89,194.2 489.85,195.2 489.82,196.2 489.8,197.2 489.79,198.2 489.78,199.2 489.77,200.2 489.78,201.2 489.78,202.2 489.8,203.2 489.81,204.2 489.83,205.2 489.85,206.2 489.88,207.2 489.91,208.2 489.94,209.2 489.98,210.2 490.01,211.2 490.05,212.2 490.09,213.2 490.13,214.2 490.16,215.2 490.2,216.2 490.24,217.2 490.28,218.2 490.31,219.2 490.35,220.2 490.38,221.2 490.41,222.2 490.44,223.2 490.46,224.2 490.48,225.2 490.5,226.2 490.5,227" fill="none" stroke="#22ee22" stroke-width="0.95"  stroke-linecap="round" stroke-linejoin="round"/>
<polyline points="597.4,14.2 597.22,15.2 597.08,16.2 596.95,17.2 596.84,18.2 596.74,19.2 596.65,20.2 596.58,21.2 596.53,22.2 596.48,23.2 596.45,24.2 596.43,25.2 596.43,26.2 596.43,27.2 596.45,28.2 596.48,29.2 596.53,30.2 596.58,31.2 596.65,32.2 596.72,33.2 596.81,34.2 596.9,35.2 597.01,36.2 597.13,37.2 597.25,38.2 597.39,39.2 597.53,40.2 597.68,41.2 597.84,42.2 598.01,43.2 598.19,44.2 598.38,45.2 598.57,46.2 598.77,47.2 598.97,48.2 599.18,49.2 599.4,50.2 599.63,51.2 599.86,52.2 600.09,53.2 600.33,54.2 600.58,55.2 600.83,56.2 601.09,57.2 601.35,58.2 601.61,59.2 601.88,60.2 602.16,61.2 602.43,62.2 602.72,63.2 603,64.2 603.29,65.2 603.59,66.2 603.89,67.2 604.19,68.2 604.49,69.2 604.8,70.2 605.11,71.2 605.43,72.2 605.75,73.2 606.07,74.2 606.39,75.2 606.72,76.2 607.04,77.2 607.38,78.2 607.71,79.2 608.04,80.2 608.38,81.2 608.72,82.2 609.06,83.2 609.41,84.2 609.75,85.2 610.1,86.2 610.45,87.2 610.8,88.2 611.15,89.2 611.5,90.2 611.85,91.2 612.21,92.2 612.56,93.2 612.92,94.2 613.27,95.2 613.63,96.2 613.98,97.2 614.34,98.2 614.7,99.2 615.06,100.2 615.42,101.2 615.78,102.2 616.14,103.2 616.5,104.2 616.86,105.2 617.22,106.2 617.58,107.2 617.94,108.2 618.31,109.2 618.67,110.2 619.03,111.2 619.4,112.2 619.76,113.2 620.13,114.2 620.5,115.2 620.87,116.2 621.23,117.2 621.6,118.2 621.97,119.2 622.34,120.2 622.71,121.2 623.09,122.2 623.46,123.2 623.83,124.2 624.21,125.2 624.58,126.2 624.96,127.2 625.33,128.2 625.71,129.2 626.09,130.2 626.47,131.2 626.85,132.2 627.23,133.2 627.61,134.2 627.99,135.2 628.37,136.2 628.76,137.2 629.14,138.2 629.53,139.2 629.92,140.2 630.3,141.2 630.69,142.2 631.08,143.2 631.47,144.2 631.86,145.2 632.26,146.2 632.65,147.2 633.05,148.2 633.44,149.2 633.84,150.2 634.24,151.2 634.63,152.2 635.03,153.2 635.43,154.2 635.84,155.2 636.24,156.2 636.64,157.2 637.05,158.2 637.46,159.2 637.86,160.2 638.27,161.2 638.68,162.2 639.09,163.2 639.5,164.2 639.92,165.2 640.33,166.2 640.75,167.2 641.16,168.2 641.58,169.2 642,170.2 642.42,171.2 642.84,172.2 643.27,173.2 643.69,174.2 644.12,175.2 644.55,176.2 644.97,177.2 645.4,178.2 645.83,179.2 646.27,180.2 646.7,181.2 647.14,182.2 647.57,183.2 648.01,184.2 648.45,185.2 648.89,186.2 649.33,187.2 649.78,188.2 650.22,189.2 650.67,190.2 651.11,191.2 651.56,192.2 652.01,193.2 652.47,194.2 652.92,195.2 653.38,196.2 653.83,197.2 654.29,198.2 654.75,199.2 655.21,200.2 655.68,201.2 656.14,202.2 656.61,203.2 657.07,204.2 657.54,205.2 658.01,206.2 658.49,207.2 658.96,208.2 659.44,209.2 659.92,210.2 660.39,211.2 660.88,212.2 661.36,213.2 661.84,214.2 662.33,215.2 662.82,216.2 663.31,217.2 663.8,218.2 664.29,219.2 664.78,220.2 665.28,221.2 665.78,222.2 666.28,223.2 666.78,224.2 667.29,225.2 667.79,226.2 668.2,227" fill="none" stroke="#22ee22" stroke-width="0.95"  stroke-linecap="round" stroke-linejoin="round"/>
<polyline points="605.7,14.4 604.81,15.4 603.95,16.4 603.09,17.4 602.24,18.4 601.4,19.4 600.57,20.4 599.74,21.4 598.92,22.4 598.11,23.4 597.31,24.4 596.51,25.4 595.72,26.4 594.94,27.4 594.16,28.4 593.39,29.4 592.62,30.4 591.86,31.4 591.11,32.4 590.36,33.4 589.62,34.4 588.89,35.4 588.16,36.4 587.43,37.4 586.71,38.4 586,39.4 585.29,40.4 584.58,41.4 583.88,42.4 583.19,43.4 582.5,44.4 581.81,45.4 581.13,46.4 580.45,47.4 579.77,48.4 579.1,49.4 578.44,50.4 577.77,51.4 577.11,52.4 576.45,53.4 575.8,54.4 575.15,55.4 574.5,56.4 573.85,57.4 573.21,58.4 572.57,59.4 571.93,60.4 571.29,61.4 570.65,62.4 570.02,63.4 569.39,64.4 568.76,65.4 568.13,66.4 567.5,67.4 566.88,68.4 566.26,69.4 565.63,70.4 565.01,71.4 564.39,72.4 563.78,73.4 563.16,74.4 562.55,75.4 561.94,76.4 561.32,77.4 560.71,78.4 560.11,79.4 559.5,80.4 558.89,81.4 558.29,82.4 557.69,83.4 557.09,84.4 556.49,85.4 555.89,86.4 555.29,87.4 554.69,88.4 554.1,89.4 553.51,90.4 552.91,91.4 552.32,92.4 551.73,93.4 551.15,94.4 550.56,95.4 549.97,96.4 549.39,97.4 548.8,98.4 548.22,99.4 547.64,100.4 547.06,101.4 546.48,102.4 545.9,103.4 545.32,104.4 544.75,105.4 544.17,106.4 543.6,107.4 543.03,108.4 542.45,109.4 541.88,110.4 541.31,111.4 540.74,112.4 540.17,113.4 539.61,114.4 539.04,115.4 538.47,116.4 537.91,117.4 537.35,118.4 536.78,119.4 536.22,120.4 535.66,121.4 535.1,122.4 534.54,123.4 533.98,124.4 533.42,125.4 532.86,126.4 532.3,127.4 531.75,128.4 531.19,129.4 530.64,130.4 530.09,131.4 529.53,132.4 528.98,133.4 528.43,134.4 527.89,135.4 527.34,136.4 526.79,137.4 526.25,138.4 525.7,139.4 525.16,140.4 524.62,141.4 524.08,142.4 523.54,143.4 523.01,144.4 522.47,145.4 521.94,146.4 521.4,147.4 520.87,148.4 520.34,149.4 519.82,150.4 519.29,151.4 518.77,152.4 518.25,153.4 517.73,154.4 517.21,155.4 516.69,156.4 516.18,157.4 515.67,158.4 515.16,159.4 514.65,160.4 514.14,161.4 513.64,162.4 513.13,163.4 512.63,164.4 512.14,165.4 511.64,166.4 511.15,167.4 510.66,168.4 510.17,169.4 509.68,170.4 509.2,171.4 508.72,172.4 508.24,173.4 507.76,174.4 507.29,175.4 506.82,176.4 506.35,177.4 505.89,178.4 505.42,179.4 504.96,180.4 504.51,181.4 504.05,182.4 503.6,183.4 503.15,184.4 502.71,185.4 502.26,186.4 501.82,187.4 501.39,188.4 500.95,189.4 500.52,190.4 500.1,191.4 499.67,192.4 499.25,193.4 498.83,194.4 498.42,195.4 498.01,196.4 497.6,197.4 497.2,198.4 496.8,199.4 496.4,200.4 496,201.4 495.61,202.4 495.23,203.4 494.84,204.4 494.47,205.4 494.09,206.4 493.72,207.4 493.35,208.4 492.98,209.4 492.62,210.4 492.27,211.4 491.91,212.4 491.56,213.4 491.5,213.6" fill="none" stroke="#1a1a1a" stroke-width="0.95"  stroke-linecap="round" stroke-linejoin="round"/>
<polyline points="605.7,14.4 605.62,15.4 605.56,16.4 605.5,17.4 605.44,18.4 605.4,19.4 605.35,20.4 605.32,21.4 605.29,22.4 605.26,23.4 605.24,24.4 605.23,25.4 605.22,26.4 605.22,27.4 605.22,28.4 605.23,29.4 605.25,30.4 605.27,31.4 605.29,32.4 605.32,33.4 605.36,34.4 605.4,35.4 605.45,36.4 605.5,37.4 605.56,38.4 605.62,39.4 605.69,40.4 605.76,41.4 605.84,42.4 605.93,43.4 606.01,44.4 606.11,45.4 606.21,46.4 606.31,47.4 606.42,48.4 606.53,49.4 606.65,50.4 606.77,51.4 606.9,52.4 607.03,53.4 607.17,54.4 607.31,55.4 607.45,56.4 607.6,57.4 607.76,58.4 607.92,59.4 608.08,60.4 608.25,61.4 608.42,62.4 608.6,63.4 608.78,64.4 608.96,65.4 609.15,66.4 609.35,67.4 609.54,68.4 609.75,69.4 609.95,70.4 610.16,71.4 610.38,72.4 610.59,73.4 610.82,74.4 611.04,75.4 611.27,76.4 611.5,77.4 611.74,78.4 611.98,79.4 612.23,80.4 612.47,81.4 612.73,82.4 612.98,83.4 613.24,84.4 613.5,85.4 613.77,86.4 614.04,87.4 614.31,88.4 614.59,89.4 614.87,90.4 615.15,91.4 615.44,92.4 615.73,93.4 616.02,94.4 616.31,95.4 616.61,96.4 616.91,97.4 617.22,98.4 617.53,99.4 617.84,100.4 618.15,101.4 618.47,102.4 618.79,103.4 619.11,104.4 619.43,105.4 619.76,106.4 620.09,107.4 620.42,108.4 620.76,109.4 621.1,110.4 621.44,111.4 621.78,112.4 622.13,113.4 622.48,114.4 622.83,115.4 623.18,116.4 623.54,117.4 623.89,118.4 624.25,119.4 624.62,120.4 624.98,121.4 625.35,122.4 625.72,123.4 626.09,124.4 626.46,125.4 626.84,126.4 627.22,127.4 627.6,128.4 627.98,129.4 628.36,130.4 628.75,131.4 629.14,132.4 629.53,133.4 629.92,134.4 630.31,135.4 630.71,136.4 631.11,137.4 631.51,138.4 631.91,139.4 632.31,140.4 632.72,141.4 633.12,142.4 633.53,143.4 633.94,144.4 634.36,145.4 634.77,146.4 635.19,147.4 635.6,148.4 636.02,149.4 636.44,150.4 636.87,151.4 637.29,152.4 637.72,153.4 638.14,154.4 638.57,155.4 639,156.4 639.43,157.4 639.87,158.4 640.3,159.4 640.74,160.4 641.17,161.4 641.61,162.4 642.05,163.4 642.49,164.4 642.94,165.4 643.38,166.4 643.82,167.4 644.27,168.4 644.72,169.4 645.17,170.4 645.62,171.4 646.07,172.4 646.52,173.4 646.97,174.4 647.43,175.4 647.88,176.4 648.34,177.4 648.8,178.4 649.25,179.4 649.71,180.4 650.17,181.4 650.63,182.4 651.1,183.4 651.56,184.4 652.02,185.4 652.49,186.4 652.95,187.4 653.42,188.4 653.89,189.4 654.35,190.4 654.82,191.4 655.29,192.4 655.76,193.4 656.23,194.4 656.7,195.4 657.17,196.4 657.65,197.4 658.12,198.4 658.59,199.4 659.07,200.4 659.54,201.4 660.02,202.4 660.49,203.4 660.97,204.4 661.44,205.4 661.92,206.4 662.4,207.4 662.87,208.4 663.35,209.4 663.83,210.4 664.31,211.4 664.78,212.4 665.26,213.4 665.74,214.4 666.22,215.4 666.7,216.4 667.18,217.4 667.66,218.4 668.14,219.4 668.62,220.4 669.1,221.4 669.58,222.4 670.06,223.4 670.54,224.4 671.01,225.4 671.49,226.4 671.8,227" fill="none" stroke="#1a1a1a" stroke-width="0.95"  stroke-linecap="round" stroke-linejoin="round"/>
<text x="638.7" y="31.3" font-size="9.2" fill="#1a1a1a" font-family='"Liberation Sans", sans-serif' textLength="33.4" lengthAdjust="spacingAndGlyphs">0.1 A.g</text>
<text x="672.7" y="27" font-size="6" fill="#1a1a1a" font-family='"Liberation Sans", sans-serif'>-1</text>
<text x="638.7" y="44.38" font-size="9.2" fill="#22ee22" font-family='"Liberation Sans", sans-serif' textLength="33.4" lengthAdjust="spacingAndGlyphs">0.5 A.g</text>
<text x="672.7" y="40.08" font-size="6" fill="#22ee22" font-family='"Liberation Sans", sans-serif'>-1</text>
<text x="638.7" y="57.46" font-size="9.2" fill="#ff2222" font-family='"Liberation Sans", sans-serif' textLength="33.4" lengthAdjust="spacingAndGlyphs">1.0 A.g</text>
<text x="672.7" y="53.16" font-size="6" fill="#ff2222" font-family='"Liberation Sans", sans-serif'>-1</text>
<text x="638.7" y="70.54" font-size="9.2" fill="#ff22ff" font-family='"Liberation Sans", sans-serif' textLength="33.4" lengthAdjust="spacingAndGlyphs">1.5 A.g</text>
<text x="672.7" y="66.24" font-size="6" fill="#ff22ff" font-family='"Liberation Sans", sans-serif'>-1</text>
<text x="638.7" y="83.62" font-size="9.2" fill="#2222ff" font-family='"Liberation Sans", sans-serif' textLength="33.4" lengthAdjust="spacingAndGlyphs">2.0 A.g</text>
<text x="672.7" y="79.32" font-size="6" fill="#2222ff" font-family='"Liberation Sans", sans-serif'>-1</text>
<text x="638.7" y="96.7" font-size="9.2" fill="#858585" font-family='"Liberation Sans", sans-serif' textLength="33.4" lengthAdjust="spacingAndGlyphs">5.0 A.g</text>
<text x="672.7" y="92.4" font-size="6" fill="#858585" font-family='"Liberation Sans", sans-serif'>-1</text>
<text x="564.4" y="282.4" font-size="15" text-anchor="middle" fill="#111" font-family='"Liberation Serif", serif'>(<tspan font-weight="bold">b</tspan>)</text>
<line x1="47.5" y1="299.8" x2="47.5" y2="507.3" stroke="#555" stroke-width="1.0"/>
<line x1="47.5" y1="507.3" x2="328.86" y2="507.3" stroke="#111" stroke-width="1.2"/>
<line x1="43.5" y1="491" x2="47.5" y2="491" stroke="#555" stroke-width="1.0"/>
<text x="40.3" y="493.9" font-size="8.0" text-anchor="end" fill="#000" font-family='"Liberation Sans", sans-serif' >250</text>
<line x1="45.3" y1="470.67" x2="47.5" y2="470.67" stroke="#555" stroke-width="1.0"/>
<line x1="43.5" y1="450.35" x2="47.5" y2="450.35" stroke="#555" stroke-width="1.0"/>
<text x="40.3" y="453.25" font-size="8.0" text-anchor="end" fill="#000" font-family='"Liberation Sans", sans-serif' >300</text>
<line x1="45.3" y1="430.02" x2="47.5" y2="430.02" stroke="#555" stroke-width="1.0"/>
<line x1="43.5" y1="409.7" x2="47.5" y2="409.7" stroke="#555" stroke-width="1.0"/>
<text x="40.3" y="412.6" font-size="8.0" text-anchor="end" fill="#000" font-family='"Liberation Sans", sans-serif' >350</text>
<line x1="45.3" y1="389.38" x2="47.5" y2="389.38" stroke="#555" stroke-width="1.0"/>
<line x1="43.5" y1="369.05" x2="47.5" y2="369.05" stroke="#555" stroke-width="1.0"/>
<text x="40.3" y="371.95" font-size="8.0" text-anchor="end" fill="#000" font-family='"Liberation Sans", sans-serif' >400</text>
<line x1="45.3" y1="348.72" x2="47.5" y2="348.72" stroke="#555" stroke-width="1.0"/>
<line x1="43.5" y1="328.4" x2="47.5" y2="328.4" stroke="#555" stroke-width="1.0"/>
<text x="40.3" y="331.3" font-size="8.0" text-anchor="end" fill="#000" font-family='"Liberation Sans", sans-serif' >450</text>
<line x1="45.3" y1="308.07" x2="47.5" y2="308.07" stroke="#555" stroke-width="1.0"/>
<line x1="47.5" y1="507.3" x2="47.5" y2="511.5" stroke="#111" stroke-width="1.0"/>
<text x="47.5" y="520.8" font-size="8.6" text-anchor="middle" fill="#000" font-family='"Liberation Sans", sans-serif' >0</text>
<line x1="75.03" y1="507.3" x2="75.03" y2="509.5" stroke="#111" stroke-width="1.0"/>
<line x1="102.56" y1="507.3" x2="102.56" y2="511.5" stroke="#111" stroke-width="1.0"/>
<text x="102.56" y="520.8" font-size="8.6" text-anchor="middle" fill="#000" font-family='"Liberation Sans", sans-serif' >1</text>
<line x1="130.09" y1="507.3" x2="130.09" y2="509.5" stroke="#111" stroke-width="1.0"/>
<line x1="157.62" y1="507.3" x2="157.62" y2="511.5" stroke="#111" stroke-width="1.0"/>
<text x="157.62" y="520.8" font-size="8.6" text-anchor="middle" fill="#000" font-family='"Liberation Sans", sans-serif' >2</text>
<line x1="185.15" y1="507.3" x2="185.15" y2="509.5" stroke="#111" stroke-width="1.0"/>
<line x1="212.68" y1="507.3" x2="212.68" y2="511.5" stroke="#111" stroke-width="1.0"/>
<text x="212.68" y="520.8" font-size="8.6" text-anchor="middle" fill="#000" font-family='"Liberation Sans", sans-serif' >3</text>
<line x1="240.21" y1="507.3" x2="240.21" y2="509.5" stroke="#111" stroke-width="1.0"/>
<line x1="267.74" y1="507.3" x2="267.74" y2="511.5" stroke="#111" stroke-width="1.0"/>
<text x="267.74" y="520.8" font-size="8.6" text-anchor="middle" fill="#000" font-family='"Liberation Sans", sans-serif' >4</text>
<line x1="295.27" y1="507.3" x2="295.27" y2="509.5" stroke="#111" stroke-width="1.0"/>
<line x1="322.8" y1="507.3" x2="322.8" y2="511.5" stroke="#111" stroke-width="1.0"/>
<text x="322.8" y="520.8" font-size="8.6" text-anchor="middle" fill="#000" font-family='"Liberation Sans", sans-serif' >5</text>
<text x="187.5" y="536.7" font-size="10" text-anchor="middle" fill="#000" font-family='"Liberation Sans", sans-serif'>Current Density (A.g<tspan font-size="6.2" dy="-4">-1</tspan><tspan dy="4">)</tspan></text>
<text transform="translate(17.4,403.3) rotate(-90)" font-size="10" text-anchor="middle" fill="#000" font-family='"Liberation Sans", sans-serif'>Specific Capacitance (F.g<tspan font-size="6.2" dy="-4">-1</tspan><tspan dy="4">)</tspan></text>
<path d="M53,304.8 C56.67,306.97 66.82,313.37 75,317.8 C83.18,322.23 92.92,327.23 102.1,331.4 C111.28,335.57 122.95,339.7 130.1,342.8 C137.25,345.9 139.63,347.58 145,350 C150.37,352.42 157.35,355.47 162.3,357.3 C167.25,359.13 168.52,359.57 174.7,361 C180.88,362.43 191.17,364.47 199.4,365.9 C207.63,367.33 215.87,368.37 224.1,369.6 C232.33,370.83 240.57,372.07 248.8,373.3 C257.03,374.53 265.28,375.85 273.5,377 C281.72,378.15 289.88,379.17 298.1,380.2 C306.32,381.23 318.68,382.7 322.8,383.2" fill="none" stroke="#0000ff" stroke-width="1.0" stroke-linejoin="round" stroke-linecap="round"/>
<rect x="50.9" y="302.7" width="4.2" height="4.2" fill="#0000ff"/>
<rect x="72.9" y="315.7" width="4.2" height="4.2" fill="#0000ff"/>
<rect x="100" y="329.3" width="4.2" height="4.2" fill="#0000ff"/>
<rect x="128" y="340.7" width="4.2" height="4.2" fill="#0000ff"/>
<rect x="155.3" y="357.9" width="4.2" height="4.2" fill="#0000ff"/>
<rect x="320.7" y="381.1" width="4.2" height="4.2" fill="#0000ff"/>
<path d="M52.7,413.6 C54.38,415.73 59.12,422.1 62.8,426.4 C66.48,430.7 70.33,434.35 74.8,439.4 C79.27,444.45 85.05,451.88 89.6,456.7 C94.15,461.52 97.65,465.03 102.1,468.3 C106.55,471.57 111.63,474.22 116.3,476.3 C120.97,478.38 123.25,479.58 130.1,480.8 C136.95,482.02 149.92,482.95 157.4,483.6 C164.88,484.25 163.88,483.88 175,484.7 C186.12,485.52 207.68,487.03 224.1,488.5 C240.52,489.97 257.05,491.97 273.5,493.5 C289.95,495.03 314.58,497 322.8,497.7" fill="none" stroke="#ff0000" stroke-width="1.0" stroke-linejoin="round" stroke-linecap="round"/>
<rect x="50.6" y="411.5" width="4.2" height="4.2" fill="#ff0000"/>
<rect x="72.7" y="437.3" width="4.2" height="4.2" fill="#ff0000"/>
<rect x="100" y="466.7" width="4.2" height="4.2" fill="#ff0000"/>
<rect x="128" y="478.7" width="4.2" height="4.2" fill="#ff0000"/>
<rect x="155.2" y="481.4" width="4.2" height="4.2" fill="#ff0000"/>
<rect x="320.7" y="495.7" width="4.2" height="4.2" fill="#ff0000"/>
<text x="146" y="412.7" font-size="10" fill="#2a2aff" font-family='"Liberation Sans", sans-serif'>PEDOT@WO<tspan font-size="6" dy="2.5">3</tspan><tspan dy="-2.5">-GO</tspan></text>
<text x="146" y="427.7" font-size="10" fill="#ff2424" font-family='"Liberation Sans", sans-serif'>WO<tspan font-size="6" dy="2.5">3</tspan><tspan dy="-2.5">-GO</tspan></text>
<text x="168.2" y="569" font-size="15" text-anchor="middle" fill="#111" font-family='"Liberation Serif", serif'>(<tspan font-weight="bold">c</tspan>)</text>
<line x1="445.6" y1="306.2" x2="445.6" y2="503.6" stroke="#555" stroke-width="1.0"/>
<line x1="441.6" y1="503.6" x2="713.4" y2="503.6" stroke="#333" stroke-width="1.1"/>
<line x1="441.6" y1="503.2" x2="445.6" y2="503.2" stroke="#555" stroke-width="1.0"/>
<text x="439.3" y="506.1" font-size="8.1" text-anchor="end" fill="#000" font-family='"Liberation Sans", sans-serif' >250</text>
<line x1="443.4" y1="482.24" x2="445.6" y2="482.24" stroke="#555" stroke-width="1.0"/>
<line x1="441.6" y1="461.27" x2="445.6" y2="461.27" stroke="#555" stroke-width="1.0"/>
<text x="439.3" y="464.17" font-size="8.1" text-anchor="end" fill="#000" font-family='"Liberation Sans", sans-serif' >300</text>
<line x1="443.4" y1="440.31" x2="445.6" y2="440.31" stroke="#555" stroke-width="1.0"/>
<line x1="441.6" y1="419.35" x2="445.6" y2="419.35" stroke="#555" stroke-width="1.0"/>
<text x="439.3" y="422.25" font-size="8.1" text-anchor="end" fill="#000" font-family='"Liberation Sans", sans-serif' >350</text>
<line x1="443.4" y1="398.39" x2="445.6" y2="398.39" stroke="#555" stroke-width="1.0"/>
<line x1="441.6" y1="377.43" x2="445.6" y2="377.43" stroke="#555" stroke-width="1.0"/>
<text x="439.3" y="380.32" font-size="8.1" text-anchor="end" fill="#000" font-family='"Liberation Sans", sans-serif' >400</text>
<line x1="443.4" y1="356.46" x2="445.6" y2="356.46" stroke="#555" stroke-width="1.0"/>
<line x1="441.6" y1="335.5" x2="445.6" y2="335.5" stroke="#555" stroke-width="1.0"/>
<text x="439.3" y="338.4" font-size="8.1" text-anchor="end" fill="#000" font-family='"Liberation Sans", sans-serif' >450</text>
<line x1="443.4" y1="314.54" x2="445.6" y2="314.54" stroke="#555" stroke-width="1.0"/>
<line x1="445.6" y1="503.6" x2="445.6" y2="507.8" stroke="#333" stroke-width="1.0"/>
<text x="445.6" y="516.6" font-size="8.1" text-anchor="middle" fill="#000" font-family='"Liberation Sans", sans-serif' >0</text>
<line x1="472.33" y1="503.6" x2="472.33" y2="505.8" stroke="#333" stroke-width="1.0"/>
<line x1="499.06" y1="503.6" x2="499.06" y2="507.8" stroke="#333" stroke-width="1.0"/>
<text x="499.06" y="516.6" font-size="8.1" text-anchor="middle" fill="#000" font-family='"Liberation Sans", sans-serif' >1000</text>
<line x1="525.79" y1="503.6" x2="525.79" y2="505.8" stroke="#333" stroke-width="1.0"/>
<line x1="552.52" y1="503.6" x2="552.52" y2="507.8" stroke="#333" stroke-width="1.0"/>
<text x="552.52" y="516.6" font-size="8.1" text-anchor="middle" fill="#000" font-family='"Liberation Sans", sans-serif' >2000</text>
<line x1="579.25" y1="503.6" x2="579.25" y2="505.8" stroke="#333" stroke-width="1.0"/>
<line x1="605.98" y1="503.6" x2="605.98" y2="507.8" stroke="#333" stroke-width="1.0"/>
<text x="605.98" y="516.6" font-size="8.1" text-anchor="middle" fill="#000" font-family='"Liberation Sans", sans-serif' >3000</text>
<line x1="632.71" y1="503.6" x2="632.71" y2="505.8" stroke="#333" stroke-width="1.0"/>
<line x1="659.44" y1="503.6" x2="659.44" y2="507.8" stroke="#333" stroke-width="1.0"/>
<text x="659.44" y="516.6" font-size="8.1" text-anchor="middle" fill="#000" font-family='"Liberation Sans", sans-serif' >4000</text>
<line x1="686.17" y1="503.6" x2="686.17" y2="505.8" stroke="#333" stroke-width="1.0"/>
<line x1="712.9" y1="503.6" x2="712.9" y2="507.8" stroke="#333" stroke-width="1.0"/>
<text x="712.9" y="516.6" font-size="8.1" text-anchor="middle" fill="#000" font-family='"Liberation Sans", sans-serif' >5000</text>
<text x="582.2" y="531.9" font-size="9.5" text-anchor="middle" fill="#000" font-family='"Liberation Sans", sans-serif' >Cycle number</text>
<text transform="translate(419.2,413.2) rotate(-90)" font-size="9.6" text-anchor="middle" fill="#000" font-family='"Liberation Sans", sans-serif'>Specific Capacitance (F.g<tspan font-size="6" dy="-3.8">-1</tspan><tspan dy="3.8">)</tspan></text>
<polyline points="447,316.5 450.3,316.5 450.3,315 452.3,315 452.3,312.8 500.7,312.8" fill="none" stroke="#0000ff" stroke-width="3.2" stroke-linecap="butt" stroke-linejoin="miter"/>
<polyline points="500.7,312.8 501.2,321.2" fill="none" stroke="#0000ff" stroke-width="0.8"  stroke-linecap="round" stroke-linejoin="round"/>
<polyline points="501.2,321.3 553.6,320.2" fill="none" stroke="#0000ff" stroke-width="3.2" stroke-linecap="butt" stroke-linejoin="round"/>
<polyline points="553.6,320.2 554.2,329.4" fill="none" stroke="#0000ff" stroke-width="0.8"  stroke-linecap="round" stroke-linejoin="round"/>
<polyline points="554.2,329.4 607.8,328.8" fill="none" stroke="#0000ff" stroke-width="3.2" stroke-linecap="butt" stroke-linejoin="round"/>
<polyline points="607.8,328.8 608.5,339.6" fill="none" stroke="#0000ff" stroke-width="0.8"  stroke-linecap="round" stroke-linejoin="round"/>
<polyline points="608.5,339.8 660.7,339.6" fill="none" stroke="#0000ff" stroke-width="3.2" stroke-linecap="butt" stroke-linejoin="round"/>
<polyline points="660.7,342.5 713.1,342.5" fill="none" stroke="#0000ff" stroke-width="3.2" stroke-linecap="butt" stroke-linejoin="round"/>
<polyline points="446.6,428.1 450.3,428.1 450.3,426.5 452.8,426.5 452.8,424.4 458.5,423.4 500.7,423.4" fill="none" stroke="#ff0000" stroke-width="4.2" stroke-linecap="butt" stroke-linejoin="miter"/>
<polyline points="500.7,423.4 501.2,435.1" fill="none" stroke="#ff0000" stroke-width="0.8"  stroke-linecap="round" stroke-linejoin="round"/>
<polyline points="501.2,435.1 554.2,433.7" fill="none" stroke="#ff0000" stroke-width="4.2" stroke-linecap="butt" stroke-linejoin="round"/>
<polyline points="554.2,433.7 555,446.6" fill="none" stroke="#ff0000" stroke-width="0.8"  stroke-linecap="round" stroke-linejoin="round"/>
<polyline points="555,446.6 590,445.4 608.4,445.4" fill="none" stroke="#ff0000" stroke-width="4.2" stroke-linecap="butt" stroke-linejoin="round"/>
<polyline points="608.4,445.4 609.2,460.8" fill="none" stroke="#ff0000" stroke-width="0.8"  stroke-linecap="round" stroke-linejoin="round"/>
<polyline points="608.8,461.3 614,460.3 661.6,460.3" fill="none" stroke="#ff0000" stroke-width="4.2" stroke-linecap="butt" stroke-linejoin="round"/>
<polyline points="661.6,464.8 713.5,464.8" fill="none" stroke="#ff0000" stroke-width="4.2" stroke-linecap="butt" stroke-linejoin="round"/>
<text x="713.5" y="356" font-size="9.4" text-anchor="end" fill="#000" font-family='"Liberation Sans", sans-serif' >92.1%</text>
<text x="711.3" y="481" font-size="9.4" text-anchor="end" fill="#000" font-family='"Liberation Sans", sans-serif' >83.7%</text>
<text x="566" y="380.9" font-size="8.1" fill="#2a2aff" font-family='"Liberation Sans", sans-serif'>PEDOT@WO<tspan font-size="7" dy="3">3</tspan><tspan dy="-3">-GO</tspan></text>
<text x="565.8" y="394.1" font-size="8.1" fill="#ff2424" font-family='"Liberation Sans", sans-serif'>WO<tspan font-size="7" dy="3">3</tspan><tspan dy="-3">-GO</tspan></text>
<text x="564.6" y="570" font-size="15" text-anchor="middle" fill="#111" font-family='"Liberation Serif", serif'>(<tspan font-weight="bold">d</tspan>)</text>
</svg>
</body></html>
